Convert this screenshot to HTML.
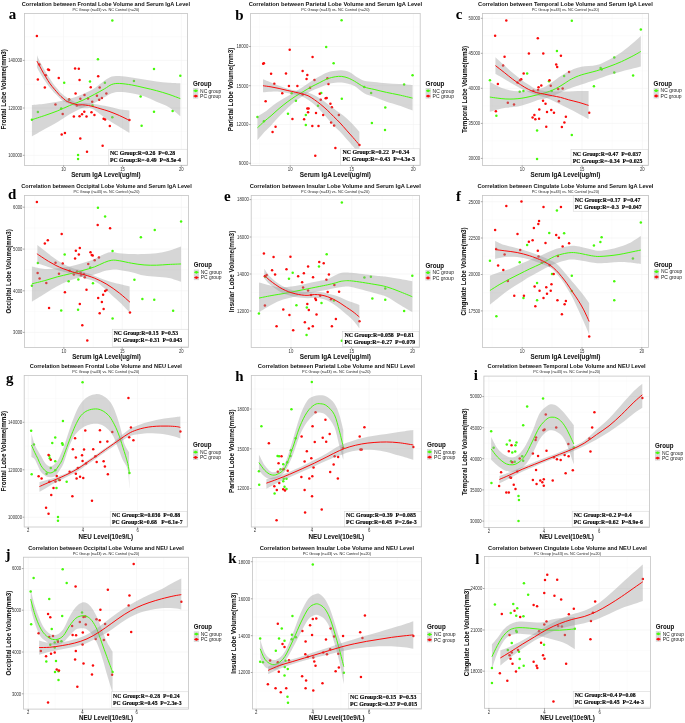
<!DOCTYPE html>
<html><head><meta charset="utf-8"><style>
html,body{margin:0;padding:0;background:#fff;}
svg{display:block;will-change:transform;}
text{font-family:"Liberation Sans",sans-serif;}
.gm{stroke:#f7f7f7;stroke-width:0.4;}
.gM{stroke:#f2f2f2;stroke-width:0.6;}
.rib{fill:#999;fill-opacity:0.4;}
.pg{fill:#46fa0a;}
.pr{fill:#fa0a0a;}
.lg{stroke:#46fa0a;stroke-width:1.0;fill:none;}
.lr{stroke:#fa0a0a;stroke-width:1.0;fill:none;}
.bd{fill:none;stroke:#c4c4c4;stroke-width:0.8;}
.sbox{fill:#fff;stroke:#d0d0d0;stroke-width:0.5;}
.st{font-family:"Liberation Serif",serif;font-weight:bold;font-size:6.2px;fill:#000;stroke:#000;stroke-width:0.15;white-space:pre;}
.tk{stroke:#555;stroke-width:0.5;}
.tl{font-size:4.452px;fill:#333;}
.ti{font-size:6.08px;font-weight:bold;fill:#111;}
.su{font-size:4.028px;fill:#222;}
.ax{font-size:6.625px;font-weight:bold;fill:#111;stroke:#111;stroke-width:0.05;}
.lt{font-family:"Liberation Serif",serif;font-weight:bold;font-size:15.6px;fill:#000;}
.lgt{font-size:6.498px;font-weight:bold;fill:#111;stroke:#111;stroke-width:0.05;}
.lgl{font-size:5.247px;fill:#222;}
</style></head>
<body><svg width="685" height="723" viewBox="0 0 685 723">
<rect width="685" height="723" fill="#fff"/>
<g><line x1="34.1" y1="13.4" x2="34.1" y2="165.4" class="gm"/><line x1="93.1" y1="13.4" x2="93.1" y2="165.4" class="gm"/><line x1="152" y1="13.4" x2="152" y2="165.4" class="gm"/><line x1="24.4" y1="36.7" x2="187.45" y2="36.7" class="gm"/><line x1="24.4" y1="84.2" x2="187.45" y2="84.2" class="gm"/><line x1="24.4" y1="131.6" x2="187.45" y2="131.6" class="gm"/><line x1="63.6" y1="13.4" x2="63.6" y2="165.4" class="gM"/><line x1="122.6" y1="13.4" x2="122.6" y2="165.4" class="gM"/><line x1="181.3" y1="13.4" x2="181.3" y2="165.4" class="gM"/><line x1="24.4" y1="60.4" x2="187.45" y2="60.4" class="gM"/><line x1="24.4" y1="108" x2="187.45" y2="108" class="gM"/><line x1="24.4" y1="155.3" x2="187.45" y2="155.3" class="gM"/><circle cx="112.32" cy="20.42" r="1.25" class="pg"/><circle cx="97.93" cy="59.14" r="1.25" class="pg"/><circle cx="154.01" cy="69.07" r="1.25" class="pg"/><circle cx="180.32" cy="75.77" r="1.25" class="pg"/><circle cx="64.18" cy="82.72" r="1.25" class="pg"/><circle cx="89.99" cy="81.47" r="1.25" class="pg"/><circle cx="104.88" cy="82.72" r="1.25" class="pg"/><circle cx="133.91" cy="80.98" r="1.25" class="pg"/><circle cx="140.61" cy="96.61" r="1.25" class="pg"/><circle cx="37.87" cy="112" r="1.25" class="pg"/><circle cx="31.91" cy="119.69" r="1.25" class="pg"/><circle cx="61.2" cy="108.53" r="1.25" class="pg"/><circle cx="69.14" cy="99.84" r="1.25" class="pg"/><circle cx="92.47" cy="105.55" r="1.25" class="pg"/><circle cx="112.32" cy="117.21" r="1.25" class="pg"/><circle cx="141.61" cy="125.65" r="1.25" class="pg"/><circle cx="154.01" cy="111.75" r="1.25" class="pg"/><circle cx="172.63" cy="111.01" r="1.25" class="pg"/><circle cx="78.07" cy="154.93" r="1.25" class="pg"/><circle cx="78.07" cy="158.91" r="1.25" class="pg"/><circle cx="36.88" cy="36.06" r="1.25" class="pr"/><circle cx="37.87" cy="79.49" r="1.25" class="pr"/><circle cx="39.36" cy="64.6" r="1.25" class="pr"/><circle cx="44.82" cy="87.43" r="1.25" class="pr"/><circle cx="45.81" cy="75.27" r="1.25" class="pr"/><circle cx="48.04" cy="69.56" r="1.25" class="pr"/><circle cx="49.04" cy="70.06" r="1.25" class="pr"/><circle cx="55.49" cy="104.55" r="1.25" class="pr"/><circle cx="58.72" cy="78" r="1.25" class="pr"/><circle cx="61.69" cy="134.58" r="1.25" class="pr"/><circle cx="64.92" cy="133.09" r="1.25" class="pr"/><circle cx="62.69" cy="113.99" r="1.25" class="pr"/><circle cx="69.14" cy="99.59" r="1.25" class="pr"/><circle cx="73.85" cy="116.47" r="1.25" class="pr"/><circle cx="75.09" cy="68.57" r="1.25" class="pr"/><circle cx="75.59" cy="93.39" r="1.25" class="pr"/><circle cx="78.82" cy="68.82" r="1.25" class="pr"/><circle cx="79.56" cy="79.99" r="1.25" class="pr"/><circle cx="79.56" cy="116.22" r="1.25" class="pr"/><circle cx="80.31" cy="138.55" r="1.25" class="pr"/><circle cx="80.31" cy="98.85" r="1.25" class="pr"/><circle cx="82.04" cy="114.23" r="1.25" class="pr"/><circle cx="84.28" cy="111.75" r="1.25" class="pr"/><circle cx="84.53" cy="94.88" r="1.25" class="pr"/><circle cx="86.51" cy="116.47" r="1.25" class="pr"/><circle cx="87.01" cy="151.71" r="1.25" class="pr"/><circle cx="88" cy="98.6" r="1.25" class="pr"/><circle cx="90.73" cy="87.18" r="1.25" class="pr"/><circle cx="91.47" cy="112.25" r="1.25" class="pr"/><circle cx="92.22" cy="101.82" r="1.25" class="pr"/><circle cx="94.45" cy="114.98" r="1.25" class="pr"/><circle cx="96.93" cy="95.87" r="1.25" class="pr"/><circle cx="98.18" cy="76.26" r="1.25" class="pr"/><circle cx="99.17" cy="99.84" r="1.25" class="pr"/><circle cx="99.66" cy="87.43" r="1.25" class="pr"/><circle cx="101.9" cy="98.1" r="1.25" class="pr"/><circle cx="102.64" cy="145.75" r="1.25" class="pr"/><circle cx="103.64" cy="118.7" r="1.25" class="pr"/><circle cx="105.12" cy="119.45" r="1.25" class="pr"/><circle cx="106.36" cy="93.39" r="1.25" class="pr"/><circle cx="109.84" cy="125.9" r="1.25" class="pr"/><circle cx="129.45" cy="119.94" r="1.25" class="pr"/><circle cx="76.83" cy="105.55" r="1.25" class="pr"/><path d="M31.91,105.05 C34.06,104.84 40.6,104.35 44.82,103.81 C49.04,103.27 53.09,102.65 57.23,101.82 C61.37,100.99 65.5,100.09 69.64,98.85 C73.78,97.61 77.91,96.16 82.04,94.38 C86.18,92.6 90.73,90.46 94.45,88.18 C98.17,85.91 101.48,82.68 104.38,80.73 C107.27,78.78 109.34,77.3 111.82,76.51 C114.3,75.72 115.96,75.84 119.27,76.01 C122.58,76.18 127.54,76.92 131.68,77.5 C135.82,78.08 139.95,78.83 144.09,79.49 C148.23,80.15 152.36,80.93 156.5,81.47 C160.64,82.01 164.94,82.43 168.91,82.72 C172.88,83.01 178.42,83.13 180.32,83.21 L180.32,116.22 C178.42,114.73 172.88,109.68 168.91,107.28 C164.94,104.88 160.64,103.64 156.5,101.82 C152.36,100 148.23,97.81 144.09,96.36 C139.95,94.91 135.82,93.88 131.68,93.14 C127.54,92.4 122.58,91.9 119.27,91.9 C115.96,91.9 114.3,92.23 111.82,93.14 C109.34,94.05 107.27,95.7 104.38,97.36 C101.48,99.02 98.17,101.29 94.45,103.07 C90.73,104.85 86.18,106.17 82.04,108.03 C77.91,109.89 73.78,111.87 69.64,114.23 C65.5,116.59 61.37,119.7 57.23,122.18 C53.09,124.66 49.04,126.72 44.82,129.12 C40.6,131.52 34.06,135.33 31.91,136.57 Z" class="rib"/><path d="M31.91,119.69 C34.06,118.99 40.6,116.92 44.82,115.47 C49.04,114.02 53.09,112.66 57.23,111.01 C61.37,109.36 65.5,107.29 69.64,105.55 C73.78,103.81 77.91,102.44 82.04,100.58 C86.18,98.72 90.73,96.32 94.45,94.38 C98.17,92.44 101.48,90.58 104.38,88.92 C107.27,87.27 109.34,85.36 111.82,84.45 C114.3,83.54 115.96,83.38 119.27,83.46 C122.58,83.54 127.54,84.25 131.68,84.95 C135.82,85.65 139.95,86.73 144.09,87.68 C148.23,88.63 152.36,89.54 156.5,90.66 C160.64,91.78 164.94,93.06 168.91,94.38 C172.88,95.7 178.42,97.9 180.32,98.6" class="lg"/><path d="M37.07,55.28 C37.29,55.83 37.92,57.48 38.38,58.57 C38.84,59.66 39.23,60.7 39.84,61.85 C40.45,63.01 41.3,64.22 42.03,65.5 C42.76,66.78 43.49,68.24 44.22,69.52 C44.95,70.8 45.68,71.95 46.41,73.17 C47.14,74.39 47.87,75.66 48.6,76.82 C49.33,77.97 50.06,79 50.79,80.1 C51.52,81.19 52.25,82.36 52.98,83.39 C53.71,84.42 54.44,85.4 55.17,86.31 C55.9,87.22 56.63,88.01 57.36,88.86 C58.09,89.71 58.82,90.63 59.55,91.42 C60.28,92.21 61.01,92.94 61.74,93.61 C62.47,94.28 63.2,94.88 63.93,95.43 C64.66,95.98 65.39,96.4 66.12,96.89 C66.85,97.38 66.54,97.39 68.31,98.35 C70.08,99.31 74.3,101.94 76.74,102.66 C79.18,103.38 80.87,102.56 82.94,102.66 C85.01,102.76 85.16,102.67 89.15,103.28 C93.14,103.89 101.84,105.29 106.86,106.29 C111.88,107.29 115.5,108.57 119.27,109.27 C123.03,109.97 127.75,110.3 129.45,110.51 L129.45,132.85 C127.75,131.81 123.03,128.91 119.27,126.64 C115.5,124.37 111.36,122.16 106.86,119.2 C102.36,116.24 95.72,110.7 92.25,108.87 C88.78,107.05 88.11,108.46 86.04,108.25 C83.97,108.04 83.4,108.67 79.84,107.63 C76.28,106.59 67.55,103.18 64.66,102 C61.76,100.82 63.2,101.09 62.47,100.54 C61.74,99.99 61.01,99.39 60.28,98.72 C59.55,98.05 58.82,97.26 58.09,96.53 C57.36,95.8 56.63,95.07 55.9,94.34 C55.17,93.61 54.44,92.94 53.71,92.15 C52.98,91.36 52.25,90.44 51.52,89.59 C50.79,88.74 50.06,87.95 49.33,87.04 C48.6,86.13 47.87,85.16 47.14,84.12 C46.41,83.09 45.68,81.92 44.95,80.83 C44.22,79.73 43.49,78.7 42.76,77.55 C42.03,76.39 41.3,75.12 40.57,73.9 C39.84,72.68 38.99,71.34 38.38,70.25 C37.77,69.16 37.16,67.82 36.92,67.33 Z" class="rib"/><path d="M36.92,61.12 C37.29,61.79 38.38,63.8 39.11,65.14 C39.84,66.48 40.57,67.81 41.3,69.15 C42.03,70.49 42.76,71.89 43.49,73.17 C44.22,74.45 44.95,75.6 45.68,76.82 C46.41,78.04 47.14,79.31 47.87,80.47 C48.6,81.62 49.33,82.72 50.06,83.75 C50.79,84.78 51.52,85.76 52.25,86.67 C52.98,87.58 53.71,88.38 54.44,89.23 C55.17,90.08 55.9,90.93 56.63,91.78 C57.36,92.63 58.09,93.55 58.82,94.34 C59.55,95.13 60.28,95.86 61.01,96.53 C61.74,97.2 62.47,97.74 63.2,98.35 C63.93,98.96 64.66,99.63 65.39,100.18 C66.12,100.73 65.58,100.88 67.58,101.64 C69.58,102.41 74.9,104.25 77.36,104.77 C79.82,105.29 80.46,104.64 82.32,104.77 C84.18,104.89 86.46,105.15 88.53,105.52 C90.6,105.89 92.66,106.45 94.73,107.01 C96.8,107.57 98.55,108.15 100.93,108.87 C103.31,109.59 105.94,110.25 109,111.35 C112.06,112.45 115.86,113.95 119.27,115.47 C122.68,116.98 127.75,119.61 129.45,120.44" class="lr"/><rect x="108.8" y="149.2" width="78.35" height="15.9" class="sbox"/><text x="109.9" y="155.4" class="st" textLength="65.29" lengthAdjust="spacingAndGlyphs">NC Group:R=0.26  P=0.28</text><text x="109.9" y="162.2" class="st" textLength="71.05" lengthAdjust="spacingAndGlyphs">PC Group:R=-0.49  P=8.5e-4</text><rect x="24.4" y="13.4" width="163.05" height="152" class="bd"/><line x1="63.6" y1="165.4" x2="63.6" y2="167" class="tk"/><text x="63.6" y="170.6" class="tl" text-anchor="middle" textLength="4.67" lengthAdjust="spacingAndGlyphs">10</text><line x1="122.6" y1="165.4" x2="122.6" y2="167" class="tk"/><text x="122.6" y="170.6" class="tl" text-anchor="middle" textLength="4.67" lengthAdjust="spacingAndGlyphs">15</text><line x1="181.3" y1="165.4" x2="181.3" y2="167" class="tk"/><text x="181.3" y="170.6" class="tl" text-anchor="middle" textLength="4.67" lengthAdjust="spacingAndGlyphs">20</text><line x1="22.8" y1="60.4" x2="24.4" y2="60.4" class="tk"/><text x="22.2" y="62.25" class="tl" text-anchor="end" textLength="14.02" lengthAdjust="spacingAndGlyphs">140000</text><line x1="22.8" y1="108" x2="24.4" y2="108" class="tk"/><text x="22.2" y="109.85" class="tl" text-anchor="end" textLength="14.02" lengthAdjust="spacingAndGlyphs">120000</text><line x1="22.8" y1="155.3" x2="24.4" y2="155.3" class="tk"/><text x="22.2" y="157.15" class="tl" text-anchor="end" textLength="14.02" lengthAdjust="spacingAndGlyphs">100000</text><text x="105.92" y="5.8" class="ti" text-anchor="middle" textLength="168.30" lengthAdjust="spacingAndGlyphs">Correlation between Frontal Lobe Volume and Serum IgA Level</text><text x="105.92" y="10.9" class="su" text-anchor="middle" textLength="66.95" lengthAdjust="spacingAndGlyphs">PC Group (n=43) vs. NC Control (n=20)</text><text x="105.92" y="176.6" class="ax" text-anchor="middle" textLength="69.57" lengthAdjust="spacingAndGlyphs">Serum IgA Level(ug/ml)</text><text transform="translate(5.6,89.4) rotate(-90)" class="ax" text-anchor="middle" textLength="80.44" lengthAdjust="spacingAndGlyphs">Frontal Lobe Volume(mm3)</text><text x="8.8" y="18.5" class="lt" textLength="7.50" lengthAdjust="spacingAndGlyphs">a</text><text x="193.1" y="85.6" class="lgt" textLength="18.39" lengthAdjust="spacingAndGlyphs">Group</text><rect x="193.1" y="88" width="5.2" height="10.6" fill="#d9d9d9"/><line x1="193.5" y1="90.8" x2="197.9" y2="90.8" class="lg"/><line x1="193.5" y1="96.1" x2="197.9" y2="96.1" class="lr"/><circle cx="195.7" cy="90.8" r="1.4" class="pg"/><circle cx="195.7" cy="96.1" r="1.4" class="pr"/><text x="200.1" y="92.5" class="lgl" textLength="21.19" lengthAdjust="spacingAndGlyphs">NC group</text><text x="200.1" y="97.8" class="lgl" textLength="20.91" lengthAdjust="spacingAndGlyphs">PC group</text></g>
<g><line x1="259.5" y1="13.4" x2="259.5" y2="165.4" class="gm"/><line x1="321" y1="13.4" x2="321" y2="165.4" class="gm"/><line x1="382.5" y1="13.4" x2="382.5" y2="165.4" class="gm"/><line x1="250.6" y1="27" x2="420.2" y2="27" class="gm"/><line x1="250.6" y1="66.1" x2="420.2" y2="66.1" class="gm"/><line x1="250.6" y1="105.1" x2="420.2" y2="105.1" class="gm"/><line x1="250.6" y1="144" x2="420.2" y2="144" class="gm"/><line x1="290.2" y1="13.4" x2="290.2" y2="165.4" class="gM"/><line x1="351.7" y1="13.4" x2="351.7" y2="165.4" class="gM"/><line x1="413.3" y1="13.4" x2="413.3" y2="165.4" class="gM"/><line x1="250.6" y1="46.5" x2="420.2" y2="46.5" class="gM"/><line x1="250.6" y1="85.7" x2="420.2" y2="85.7" class="gM"/><line x1="250.6" y1="124.6" x2="420.2" y2="124.6" class="gM"/><line x1="250.6" y1="163.3" x2="420.2" y2="163.3" class="gM"/><circle cx="341.58" cy="20.18" r="1.25" class="pg"/><circle cx="326.19" cy="46.98" r="1.25" class="pg"/><circle cx="333.64" cy="63.36" r="1.25" class="pg"/><circle cx="412.55" cy="75.27" r="1.25" class="pg"/><circle cx="404.12" cy="84.45" r="1.25" class="pg"/><circle cx="364.16" cy="86.93" r="1.25" class="pg"/><circle cx="371.11" cy="92.89" r="1.25" class="pg"/><circle cx="321.23" cy="92.89" r="1.25" class="pg"/><circle cx="291.69" cy="93.14" r="1.25" class="pg"/><circle cx="295.91" cy="100.83" r="1.25" class="pg"/><circle cx="341.82" cy="98.85" r="1.25" class="pg"/><circle cx="318" cy="105.8" r="1.25" class="pg"/><circle cx="385.26" cy="107.53" r="1.25" class="pg"/><circle cx="287.97" cy="113.74" r="1.25" class="pg"/><circle cx="257.45" cy="116.96" r="1.25" class="pg"/><circle cx="305.84" cy="114.98" r="1.25" class="pg"/><circle cx="263.9" cy="121.18" r="1.25" class="pg"/><circle cx="305.84" cy="124.91" r="1.25" class="pg"/><circle cx="371.85" cy="122.92" r="1.25" class="pg"/><circle cx="385.01" cy="130.12" r="1.25" class="pg"/><circle cx="289.71" cy="49.71" r="1.25" class="pr"/><circle cx="312.54" cy="56.91" r="1.25" class="pr"/><circle cx="263.15" cy="63.85" r="1.25" class="pr"/><circle cx="263.9" cy="63.36" r="1.25" class="pr"/><circle cx="271.09" cy="73.78" r="1.25" class="pr"/><circle cx="285.99" cy="73.53" r="1.25" class="pr"/><circle cx="302.61" cy="71.05" r="1.25" class="pr"/><circle cx="307.33" cy="75.02" r="1.25" class="pr"/><circle cx="306.58" cy="78.99" r="1.25" class="pr"/><circle cx="314.53" cy="79.99" r="1.25" class="pr"/><circle cx="274.32" cy="83.71" r="1.25" class="pr"/><circle cx="288.96" cy="85.94" r="1.25" class="pr"/><circle cx="297.4" cy="85.94" r="1.25" class="pr"/><circle cx="310.06" cy="87.68" r="1.25" class="pr"/><circle cx="327.43" cy="78.25" r="1.25" class="pr"/><circle cx="328.42" cy="83.96" r="1.25" class="pr"/><circle cx="282.26" cy="93.14" r="1.25" class="pr"/><circle cx="302.61" cy="94.38" r="1.25" class="pr"/><circle cx="319.74" cy="93.64" r="1.25" class="pr"/><circle cx="265.64" cy="101.33" r="1.25" class="pr"/><circle cx="320.73" cy="99.84" r="1.25" class="pr"/><circle cx="325.69" cy="98.35" r="1.25" class="pr"/><circle cx="326.69" cy="98.1" r="1.25" class="pr"/><circle cx="330.41" cy="103.81" r="1.25" class="pr"/><circle cx="331.9" cy="107.28" r="1.25" class="pr"/><circle cx="307.33" cy="108.53" r="1.25" class="pr"/><circle cx="308.57" cy="108.53" r="1.25" class="pr"/><circle cx="308.07" cy="112.25" r="1.25" class="pr"/><circle cx="316.01" cy="112.99" r="1.25" class="pr"/><circle cx="323.21" cy="114.98" r="1.25" class="pr"/><circle cx="338.85" cy="114.98" r="1.25" class="pr"/><circle cx="292.44" cy="118.95" r="1.25" class="pr"/><circle cx="304.1" cy="119.2" r="1.25" class="pr"/><circle cx="331.15" cy="122.42" r="1.25" class="pr"/><circle cx="334.13" cy="125.4" r="1.25" class="pr"/><circle cx="275.56" cy="126.64" r="1.25" class="pr"/><circle cx="272.58" cy="132.1" r="1.25" class="pr"/><circle cx="312.29" cy="125.9" r="1.25" class="pr"/><circle cx="318.5" cy="125.9" r="1.25" class="pr"/><circle cx="335.37" cy="147.99" r="1.25" class="pr"/><circle cx="315.27" cy="155.68" r="1.25" class="pr"/><circle cx="359.45" cy="145.01" r="1.25" class="pr"/><path d="M257.41,116.57 C258.62,115.82 262.37,113.68 264.64,112.07 C266.91,110.46 268.65,108.72 271.06,106.93 C273.47,105.14 276.41,103.05 279.09,101.31 C281.77,99.57 284.44,98.11 287.12,96.5 C289.8,94.89 292.47,93.29 295.15,91.68 C297.83,90.07 300.5,88.6 303.18,86.86 C305.86,85.12 308.52,82.98 311.2,81.24 C313.88,79.5 316.55,77.89 319.23,76.42 C321.91,74.95 324.58,73.35 327.26,72.41 C329.94,71.47 332.88,71.15 335.29,70.8 C337.7,70.45 339.39,70.11 341.72,70.32 C344.05,70.53 346.77,70.93 349.27,72.04 C351.77,73.16 354.24,75.56 356.72,77.01 C359.2,78.46 361.27,79.9 364.16,80.73 C367.06,81.56 370.37,81.56 374.09,81.97 C377.81,82.38 382.36,82.88 386.5,83.21 C390.64,83.54 394.57,83.67 398.91,83.96 C403.25,84.25 410.28,84.78 412.55,84.95 L412.55,110.51 C410.28,109.68 403.25,107 398.91,105.55 C394.57,104.1 390.64,103.27 386.5,101.82 C382.36,100.37 377.81,98.31 374.09,96.86 C370.37,95.41 367.42,94.94 364.16,93.14 C360.91,91.34 357.23,87.64 354.56,86.06 C351.89,84.48 350.28,84.24 348.14,83.65 C346,83.06 343.86,82.66 341.72,82.53 C339.58,82.4 337.7,82.53 335.29,82.85 C332.88,83.17 329.94,83.65 327.26,84.45 C324.58,85.25 321.91,86.59 319.23,87.66 C316.55,88.73 313.88,89.54 311.2,90.88 C308.52,92.22 305.86,93.95 303.18,95.69 C300.5,97.43 297.83,99.17 295.15,101.31 C292.47,103.45 289.8,106 287.12,108.54 C284.44,111.08 281.77,113.76 279.09,116.57 C276.41,119.38 273.47,122.86 271.06,125.4 C268.65,127.94 266.91,129.33 264.64,131.82 C262.37,134.31 258.62,138.92 257.41,140.34 Z" class="rib"/><path d="M257.41,127.81 C258.62,126.69 262.37,123.08 264.64,121.07 C266.91,119.06 268.65,117.86 271.06,115.77 C273.47,113.68 276.41,110.81 279.09,108.54 C281.77,106.27 284.44,104.13 287.12,102.12 C289.8,100.11 292.47,98.24 295.15,96.5 C297.83,94.76 300.5,93.29 303.18,91.68 C305.86,90.07 308.52,88.33 311.2,86.86 C313.88,85.39 316.55,84.19 319.23,82.85 C321.91,81.51 324.58,79.85 327.26,78.83 C329.94,77.81 332.88,77.14 335.29,76.74 C337.7,76.34 339.58,76.2 341.72,76.42 C343.86,76.64 346,77.23 348.14,78.03 C350.28,78.83 351.89,79.76 354.56,81.24 C357.23,82.72 360.91,85.57 364.16,86.93 C367.42,88.29 370.37,88.51 374.09,89.42 C377.81,90.33 382.36,91.48 386.5,92.39 C390.64,93.3 394.57,93.93 398.91,94.88 C403.25,95.83 410.28,97.56 412.55,98.1" class="lg"/><path d="M263.03,79.31 C264.37,79.85 268.38,81.46 271.06,82.53 C273.74,83.6 276.41,84.75 279.09,85.74 C281.77,86.73 284.44,87.67 287.12,88.47 C289.8,89.27 292.74,90.02 295.15,90.55 C297.56,91.08 299.43,91.36 301.57,91.68 C303.71,92 305.85,91.87 307.99,92.48 C310.13,93.09 312.28,94.3 314.42,95.37 C316.56,96.44 318.7,97.52 320.84,98.91 C322.98,100.3 325.12,102.11 327.26,103.72 C329.4,105.33 331.55,106.93 333.69,108.54 C335.83,110.15 337.97,111.75 340.11,113.36 C342.25,114.97 344.39,116.31 346.53,118.18 C348.67,120.05 350.82,122.33 352.96,124.6 C355.1,126.87 358.31,130.62 359.38,131.82 L359.38,154.31 C358.31,152.97 355.1,148.82 352.96,146.28 C350.82,143.74 348.67,141.46 346.53,139.05 C344.39,136.64 342.25,134.09 340.11,131.82 C337.97,129.54 335.83,127.67 333.69,125.4 C331.55,123.13 329.4,120.59 327.26,118.18 C325.12,115.77 322.98,113.23 320.84,110.95 C318.7,108.67 316.56,106.4 314.42,104.53 C312.28,102.66 310.13,101.1 307.99,99.71 C305.85,98.32 303.71,97.06 301.57,96.18 C299.43,95.3 297.56,94.95 295.15,94.41 C292.74,93.87 289.8,93.41 287.12,92.96 C284.44,92.5 281.77,91.89 279.09,91.68 C276.41,91.47 273.74,91.6 271.06,91.68 C268.38,91.76 264.37,92.08 263.03,92.16 Z" class="rib"/><path d="M263.03,85.74 C264.37,85.93 268.38,86.41 271.06,86.86 C273.74,87.31 276.41,87.88 279.09,88.47 C281.77,89.06 284.44,89.78 287.12,90.39 C289.8,91 292.74,91.6 295.15,92.16 C297.56,92.72 299.43,93.18 301.57,93.77 C303.71,94.36 305.85,94.7 307.99,95.69 C310.13,96.68 312.28,98.24 314.42,99.71 C316.56,101.18 318.7,102.79 320.84,104.53 C322.98,106.27 325.12,108.14 327.26,110.15 C329.4,112.16 331.55,114.43 333.69,116.57 C335.83,118.71 337.97,120.71 340.11,122.99 C342.25,125.27 344.39,127.81 346.53,130.22 C348.67,132.63 350.82,134.99 352.96,137.45 C355.1,139.91 358.31,143.73 359.38,144.99" class="lr"/><rect x="340.6" y="148.8" width="79.3" height="16.3" class="sbox"/><text x="342.4" y="154.4" class="st" textLength="66.79" lengthAdjust="spacingAndGlyphs">NC Group:R=0.22  P=0.34</text><text x="342.4" y="161" class="st" textLength="72.69" lengthAdjust="spacingAndGlyphs">PC Group:R=-0.43  P=4.3e-3</text><rect x="250.6" y="13.4" width="169.6" height="152" class="bd"/><line x1="290.2" y1="165.4" x2="290.2" y2="167" class="tk"/><text x="290.2" y="170.6" class="tl" text-anchor="middle" textLength="4.78" lengthAdjust="spacingAndGlyphs">10</text><line x1="351.7" y1="165.4" x2="351.7" y2="167" class="tk"/><text x="351.7" y="170.6" class="tl" text-anchor="middle" textLength="4.78" lengthAdjust="spacingAndGlyphs">15</text><line x1="413.3" y1="165.4" x2="413.3" y2="167" class="tk"/><text x="413.3" y="170.6" class="tl" text-anchor="middle" textLength="4.78" lengthAdjust="spacingAndGlyphs">20</text><line x1="249" y1="46.5" x2="250.6" y2="46.5" class="tk"/><text x="248.4" y="48.35" class="tl" text-anchor="end" textLength="11.95" lengthAdjust="spacingAndGlyphs">18000</text><line x1="249" y1="85.7" x2="250.6" y2="85.7" class="tk"/><text x="248.4" y="87.55" class="tl" text-anchor="end" textLength="11.95" lengthAdjust="spacingAndGlyphs">15000</text><line x1="249" y1="124.6" x2="250.6" y2="124.6" class="tk"/><text x="248.4" y="126.45" class="tl" text-anchor="end" textLength="11.95" lengthAdjust="spacingAndGlyphs">12000</text><line x1="249" y1="163.3" x2="250.6" y2="163.3" class="tk"/><text x="248.4" y="165.15" class="tl" text-anchor="end" textLength="9.56" lengthAdjust="spacingAndGlyphs">9000</text><text x="335.4" y="5.8" class="ti" text-anchor="middle" textLength="173.47" lengthAdjust="spacingAndGlyphs">Correlation between Parietal Lobe Volume and Serum IgA Level</text><text x="335.4" y="10.9" class="su" text-anchor="middle" textLength="68.49" lengthAdjust="spacingAndGlyphs">PC Group (n=43) vs. NC Control (n=20)</text><text x="335.4" y="176.6" class="ax" text-anchor="middle" textLength="71.17" lengthAdjust="spacingAndGlyphs">Serum IgA Level(ug/ml)</text><text transform="translate(232.9,89.4) rotate(-90)" class="ax" text-anchor="middle" textLength="83.73" lengthAdjust="spacingAndGlyphs">Parietal Lobe Volume(mm3)</text><text x="235.3" y="19.9" class="lt" textLength="8.34" lengthAdjust="spacingAndGlyphs">b</text><text x="425.6" y="85.6" class="lgt" textLength="18.81" lengthAdjust="spacingAndGlyphs">Group</text><rect x="425.6" y="88" width="5.2" height="10.6" fill="#d9d9d9"/><line x1="426" y1="90.8" x2="430.4" y2="90.8" class="lg"/><line x1="426" y1="96.1" x2="430.4" y2="96.1" class="lr"/><circle cx="428.2" cy="90.8" r="1.4" class="pg"/><circle cx="428.2" cy="96.1" r="1.4" class="pr"/><text x="432.6" y="92.5" class="lgl" textLength="21.67" lengthAdjust="spacingAndGlyphs">NC group</text><text x="432.6" y="97.8" class="lgl" textLength="21.39" lengthAdjust="spacingAndGlyphs">PC group</text></g>
<g><line x1="492.18" y1="13.4" x2="492.18" y2="165.4" class="gm"/><line x1="552.23" y1="13.4" x2="552.23" y2="165.4" class="gm"/><line x1="612.27" y1="13.4" x2="612.27" y2="165.4" class="gm"/><line x1="482.4" y1="35.81" x2="648.4" y2="35.81" class="gm"/><line x1="482.4" y1="70.84" x2="648.4" y2="70.84" class="gm"/><line x1="482.4" y1="105.86" x2="648.4" y2="105.86" class="gm"/><line x1="482.4" y1="140.89" x2="648.4" y2="140.89" class="gm"/><line x1="522.2" y1="13.4" x2="522.2" y2="165.4" class="gM"/><line x1="582" y1="13.4" x2="582" y2="165.4" class="gM"/><line x1="642.3" y1="13.4" x2="642.3" y2="165.4" class="gM"/><line x1="482.4" y1="18.3" x2="648.4" y2="18.3" class="gM"/><line x1="482.4" y1="53.3" x2="648.4" y2="53.3" class="gM"/><line x1="482.4" y1="88.3" x2="648.4" y2="88.3" class="gM"/><line x1="482.4" y1="123.4" x2="648.4" y2="123.4" class="gM"/><line x1="482.4" y1="158.4" x2="648.4" y2="158.4" class="gM"/><circle cx="571.82" cy="20.67" r="1.25" class="pg"/><circle cx="640.82" cy="29.61" r="1.25" class="pg"/><circle cx="556.93" cy="50.95" r="1.25" class="pg"/><circle cx="614.26" cy="57.4" r="1.25" class="pg"/><circle cx="527.15" cy="73.53" r="1.25" class="pg"/><circle cx="564.13" cy="76.01" r="1.25" class="pg"/><circle cx="600.61" cy="68.07" r="1.25" class="pg"/><circle cx="601.61" cy="69.56" r="1.25" class="pg"/><circle cx="614.26" cy="72.54" r="1.25" class="pg"/><circle cx="633.12" cy="75.52" r="1.25" class="pg"/><circle cx="489.93" cy="80.23" r="1.25" class="pg"/><circle cx="548.99" cy="81.23" r="1.25" class="pg"/><circle cx="593.91" cy="86.19" r="1.25" class="pg"/><circle cx="519.71" cy="91.65" r="1.25" class="pg"/><circle cx="523.43" cy="90.91" r="1.25" class="pg"/><circle cx="551.72" cy="90.91" r="1.25" class="pg"/><circle cx="496.38" cy="115.72" r="1.25" class="pg"/><circle cx="537.08" cy="130.61" r="1.25" class="pg"/><circle cx="571.82" cy="135.08" r="1.25" class="pg"/><circle cx="537.08" cy="158.91" r="1.25" class="pg"/><circle cx="506.31" cy="20.42" r="1.25" class="pr"/><circle cx="495.14" cy="35.81" r="1.25" class="pr"/><circle cx="537.82" cy="38.29" r="1.25" class="pr"/><circle cx="528.89" cy="53.43" r="1.25" class="pr"/><circle cx="543.28" cy="53.43" r="1.25" class="pr"/><circle cx="504.57" cy="56.66" r="1.25" class="pr"/><circle cx="560.91" cy="55.66" r="1.25" class="pr"/><circle cx="503.08" cy="65.59" r="1.25" class="pr"/><circle cx="556.19" cy="64.6" r="1.25" class="pr"/><circle cx="557.18" cy="67.08" r="1.25" class="pr"/><circle cx="569.09" cy="72.04" r="1.25" class="pr"/><circle cx="523.68" cy="73.53" r="1.25" class="pr"/><circle cx="521.2" cy="79.24" r="1.25" class="pr"/><circle cx="519.96" cy="80.23" r="1.25" class="pr"/><circle cx="497.87" cy="83.96" r="1.25" class="pr"/><circle cx="517.47" cy="82.47" r="1.25" class="pr"/><circle cx="549.49" cy="80.23" r="1.25" class="pr"/><circle cx="550.73" cy="85.69" r="1.25" class="pr"/><circle cx="538.57" cy="87.18" r="1.25" class="pr"/><circle cx="541.3" cy="85.45" r="1.25" class="pr"/><circle cx="538.07" cy="89.91" r="1.25" class="pr"/><circle cx="558.18" cy="88.92" r="1.25" class="pr"/><circle cx="562.64" cy="88.42" r="1.25" class="pr"/><circle cx="533.36" cy="90.66" r="1.25" class="pr"/><circle cx="543.04" cy="100.83" r="1.25" class="pr"/><circle cx="558.92" cy="101.33" r="1.25" class="pr"/><circle cx="545.52" cy="103.81" r="1.25" class="pr"/><circle cx="507.8" cy="102.82" r="1.25" class="pr"/><circle cx="514" cy="104.55" r="1.25" class="pr"/><circle cx="495.88" cy="111.26" r="1.25" class="pr"/><circle cx="539.31" cy="109.52" r="1.25" class="pr"/><circle cx="551.23" cy="110.01" r="1.25" class="pr"/><circle cx="547.01" cy="112" r="1.25" class="pr"/><circle cx="553.96" cy="112.74" r="1.25" class="pr"/><circle cx="589.2" cy="112.74" r="1.25" class="pr"/><circle cx="534.35" cy="114.98" r="1.25" class="pr"/><circle cx="532.61" cy="117.46" r="1.25" class="pr"/><circle cx="535.34" cy="119.2" r="1.25" class="pr"/><circle cx="539.07" cy="118.7" r="1.25" class="pr"/><circle cx="565.87" cy="116.72" r="1.25" class="pr"/><circle cx="564.38" cy="122.42" r="1.25" class="pr"/><circle cx="546.26" cy="126.64" r="1.25" class="pr"/><circle cx="561.9" cy="126.89" r="1.25" class="pr"/><path d="M489.82,82.12 C491.16,82.79 495.17,84.93 497.85,86.13 C500.53,87.33 503.2,88.54 505.88,89.34 C508.56,90.14 511.23,90.6 513.91,90.95 C516.58,91.3 519.25,91.43 521.93,91.43 C524.61,91.43 527.28,91.3 529.96,90.95 C532.64,90.6 535.31,90.14 537.99,89.34 C540.67,88.54 543.61,87.33 546.02,86.13 C548.43,84.93 550.31,83.59 552.45,82.12 C554.59,80.65 556.73,78.77 558.87,77.3 C561.01,75.83 563.15,74.48 565.29,73.28 C567.43,72.08 569.04,71.14 571.72,70.07 C574.4,69 577.2,67.69 581.35,66.86 C585.5,66.03 592.02,66.29 596.64,65.09 C601.26,63.89 604.91,61.79 609.05,59.64 C613.19,57.49 617.32,55.09 621.46,52.19 C625.6,49.29 630.64,44.95 633.87,42.26 C637.1,39.57 639.66,37.09 640.82,36.06 L640.82,66.58 C639.66,66.87 637.1,67.49 633.87,68.32 C630.64,69.15 625.6,70.43 621.46,71.55 C617.32,72.67 613.19,73.7 609.05,75.02 C604.91,76.34 601.26,77.91 596.64,79.49 C592.02,81.07 585.5,83.16 581.35,84.53 C577.2,85.91 574.4,86.8 571.72,87.74 C569.04,88.68 567.43,89.21 565.29,90.15 C563.15,91.09 561.01,92.34 558.87,93.36 C556.73,94.38 554.59,95.45 552.45,96.25 C550.31,97.05 548.43,97.54 546.02,98.18 C543.61,98.82 540.67,99.3 537.99,100.1 C535.31,100.9 532.64,102.11 529.96,102.99 C527.28,103.87 524.61,104.73 521.93,105.4 C519.25,106.07 516.58,106.61 513.91,107.01 C511.23,107.41 508.56,107.41 505.88,107.81 C503.2,108.21 500.53,108.75 497.85,109.42 C495.17,110.09 491.16,111.42 489.82,111.82 Z" class="rib"/><path d="M489.82,97.05 C491.16,97.24 495.17,97.86 497.85,98.18 C500.53,98.5 503.2,98.85 505.88,98.98 C508.56,99.11 511.23,99.11 513.91,98.98 C516.58,98.85 519.25,98.58 521.93,98.18 C524.61,97.78 527.28,97.16 529.96,96.57 C532.64,95.98 535.31,95.31 537.99,94.64 C540.67,93.97 543.61,93.3 546.02,92.55 C548.43,91.8 550.31,91.09 552.45,90.15 C554.59,89.21 556.73,88.14 558.87,86.93 C561.01,85.73 563.15,84.26 565.29,82.92 C567.43,81.58 569.04,80.25 571.72,78.91 C574.4,77.57 577.2,76.24 581.35,74.89 C585.5,73.54 592.02,72.19 596.64,70.8 C601.26,69.41 604.91,68.11 609.05,66.58 C613.19,65.05 617.32,63.48 621.46,61.62 C625.6,59.76 630.64,57.12 633.87,55.42 C637.1,53.73 639.66,52.11 640.82,51.45" class="lg"/><path d="M495.44,57.23 C496.91,58.57 501.46,62.72 504.27,65.26 C507.08,67.8 509.62,70.21 512.3,72.48 C514.98,74.75 517.65,76.9 520.33,78.91 C523.01,80.92 525.68,82.79 528.36,84.53 C531.04,86.27 533.71,88.27 536.39,89.34 C539.07,90.41 541.74,90.6 544.42,90.95 C547.1,91.3 549.78,91.35 552.45,91.43 C555.12,91.51 557.8,91.43 560.47,91.43 C563.14,91.43 565.56,91.51 568.5,91.43 C571.44,91.35 574.79,91.03 578.14,90.95 C581.49,90.87 586.84,90.95 588.58,90.95 L588.58,119.05 C586.84,118.11 581.49,115.17 578.14,113.43 C574.79,111.69 571.44,110.08 568.5,108.61 C565.56,107.14 563.14,105.94 560.47,104.6 C557.8,103.26 555.12,101.78 552.45,100.58 C549.78,99.38 547.1,98.31 544.42,97.37 C541.74,96.43 539.07,95.84 536.39,94.96 C533.71,94.08 531.04,93.19 528.36,92.07 C525.68,90.95 523.01,89.61 520.33,88.22 C517.65,86.83 514.98,85.27 512.3,83.72 C509.62,82.17 507.08,80.52 504.27,78.91 C501.46,77.3 496.91,74.89 495.44,74.09 Z" class="rib"/><path d="M495.44,65.58 C496.91,66.73 501.46,70.26 504.27,72.48 C507.08,74.7 509.62,76.9 512.3,78.91 C514.98,80.92 517.65,82.79 520.33,84.53 C523.01,86.27 525.68,88 528.36,89.34 C531.04,90.68 533.71,91.75 536.39,92.55 C539.07,93.35 541.74,93.62 544.42,94.16 C547.1,94.7 549.78,95.23 552.45,95.77 C555.12,96.3 557.8,96.7 560.47,97.37 C563.14,98.04 565.56,98.98 568.5,99.78 C571.44,100.58 574.79,101.25 578.14,102.19 C581.49,103.13 586.84,104.87 588.58,105.4" class="lr"/><rect x="571" y="149.5" width="77.1" height="15.6" class="sbox"/><text x="572.7" y="155.7" class="st" textLength="68.38" lengthAdjust="spacingAndGlyphs">NC Group:R=0.47  P=0.037</text><text x="572.7" y="162.5" class="st" textLength="69.67" lengthAdjust="spacingAndGlyphs">PC Group:R=-0.34  P=0.025</text><rect x="482.4" y="13.4" width="166" height="152" class="bd"/><line x1="522.2" y1="165.4" x2="522.2" y2="167" class="tk"/><text x="522.2" y="170.6" class="tl" text-anchor="middle" textLength="4.69" lengthAdjust="spacingAndGlyphs">10</text><line x1="582" y1="165.4" x2="582" y2="167" class="tk"/><text x="582" y="170.6" class="tl" text-anchor="middle" textLength="4.69" lengthAdjust="spacingAndGlyphs">15</text><line x1="642.3" y1="165.4" x2="642.3" y2="167" class="tk"/><text x="642.3" y="170.6" class="tl" text-anchor="middle" textLength="4.69" lengthAdjust="spacingAndGlyphs">20</text><line x1="480.8" y1="18.3" x2="482.4" y2="18.3" class="tk"/><text x="480.2" y="20.15" class="tl" text-anchor="end" textLength="11.71" lengthAdjust="spacingAndGlyphs">50000</text><line x1="480.8" y1="53.3" x2="482.4" y2="53.3" class="tk"/><text x="480.2" y="55.15" class="tl" text-anchor="end" textLength="11.71" lengthAdjust="spacingAndGlyphs">45000</text><line x1="480.8" y1="88.3" x2="482.4" y2="88.3" class="tk"/><text x="480.2" y="90.15" class="tl" text-anchor="end" textLength="11.71" lengthAdjust="spacingAndGlyphs">40000</text><line x1="480.8" y1="123.4" x2="482.4" y2="123.4" class="tk"/><text x="480.2" y="125.25" class="tl" text-anchor="end" textLength="11.71" lengthAdjust="spacingAndGlyphs">35000</text><line x1="480.8" y1="158.4" x2="482.4" y2="158.4" class="tk"/><text x="480.2" y="160.25" class="tl" text-anchor="end" textLength="11.71" lengthAdjust="spacingAndGlyphs">30000</text><text x="565.4" y="5.8" class="ti" text-anchor="middle" textLength="174.67" lengthAdjust="spacingAndGlyphs">Correlation between Temporal Lobe Volume and Serum IgA Level</text><text x="565.4" y="10.9" class="su" text-anchor="middle" textLength="67.15" lengthAdjust="spacingAndGlyphs">PC Group (n=43) vs. NC Control (n=20)</text><text x="565.4" y="176.6" class="ax" text-anchor="middle" textLength="69.78" lengthAdjust="spacingAndGlyphs">Serum IgA Level(ug/ml)</text><text transform="translate(466.6,89.4) rotate(-90)" class="ax" text-anchor="middle" textLength="87.19" lengthAdjust="spacingAndGlyphs">Temporal Lobe Volume(mm3)</text><text x="455.7" y="18.8" class="lt" textLength="6.66" lengthAdjust="spacingAndGlyphs">c</text><text x="653.6" y="85.5" class="lgt" textLength="18.44" lengthAdjust="spacingAndGlyphs">Group</text><rect x="653.6" y="87.9" width="5.2" height="10.6" fill="#d9d9d9"/><line x1="654" y1="90.7" x2="658.4" y2="90.7" class="lg"/><line x1="654" y1="96" x2="658.4" y2="96" class="lr"/><circle cx="656.2" cy="90.7" r="1.4" class="pg"/><circle cx="656.2" cy="96" r="1.4" class="pr"/><text x="660.6" y="92.4" class="lgl" textLength="21.25" lengthAdjust="spacingAndGlyphs">NC group</text><text x="660.6" y="97.7" class="lgl" textLength="20.97" lengthAdjust="spacingAndGlyphs">PC group</text></g>
<g><line x1="34.55" y1="195.4" x2="34.55" y2="347.4" class="gm"/><line x1="93.25" y1="195.4" x2="93.25" y2="347.4" class="gm"/><line x1="151.95" y1="195.4" x2="151.95" y2="347.4" class="gm"/><line x1="24.5" y1="228.07" x2="188.5" y2="228.07" class="gm"/><line x1="24.5" y1="269.8" x2="188.5" y2="269.8" class="gm"/><line x1="24.5" y1="311.53" x2="188.5" y2="311.53" class="gm"/><line x1="63.9" y1="195.4" x2="63.9" y2="347.4" class="gM"/><line x1="122.2" y1="195.4" x2="122.2" y2="347.4" class="gM"/><line x1="181.3" y1="195.4" x2="181.3" y2="347.4" class="gM"/><line x1="24.5" y1="207.2" x2="188.5" y2="207.2" class="gM"/><line x1="24.5" y1="249.1" x2="188.5" y2="249.1" class="gM"/><line x1="24.5" y1="290.8" x2="188.5" y2="290.8" class="gM"/><line x1="24.5" y1="332.4" x2="188.5" y2="332.4" class="gM"/><circle cx="97.93" cy="207.87" r="1.25" class="pg"/><circle cx="105.12" cy="216.55" r="1.25" class="pg"/><circle cx="181.07" cy="221.52" r="1.25" class="pg"/><circle cx="154.76" cy="229.96" r="1.25" class="pg"/><circle cx="140.86" cy="237.15" r="1.25" class="pg"/><circle cx="112.57" cy="251.05" r="1.25" class="pg"/><circle cx="64.67" cy="254.53" r="1.25" class="pg"/><circle cx="37.87" cy="262.96" r="1.25" class="pg"/><circle cx="90.23" cy="267.43" r="1.25" class="pg"/><circle cx="134.41" cy="279.84" r="1.25" class="pg"/><circle cx="78.32" cy="279.59" r="1.25" class="pg"/><circle cx="68.64" cy="281.33" r="1.25" class="pg"/><circle cx="92.96" cy="283.31" r="1.25" class="pg"/><circle cx="31.91" cy="285.8" r="1.25" class="pg"/><circle cx="142.35" cy="298.95" r="1.25" class="pg"/><circle cx="154.26" cy="299.69" r="1.25" class="pg"/><circle cx="61.2" cy="310.61" r="1.25" class="pg"/><circle cx="78.07" cy="309.87" r="1.25" class="pg"/><circle cx="173.12" cy="310.86" r="1.25" class="pg"/><circle cx="112.57" cy="318.55" r="1.25" class="pg"/><circle cx="36.88" cy="201.91" r="1.25" class="pr"/><circle cx="97.68" cy="224.99" r="1.25" class="pr"/><circle cx="110.09" cy="228.22" r="1.25" class="pr"/><circle cx="61.69" cy="233.93" r="1.25" class="pr"/><circle cx="47.8" cy="240.13" r="1.25" class="pr"/><circle cx="44.82" cy="243.61" r="1.25" class="pr"/><circle cx="79.81" cy="248.07" r="1.25" class="pr"/><circle cx="75.84" cy="250.8" r="1.25" class="pr"/><circle cx="78.82" cy="254.53" r="1.25" class="pr"/><circle cx="90.48" cy="252.29" r="1.25" class="pr"/><circle cx="91.72" cy="255.02" r="1.25" class="pr"/><circle cx="92.72" cy="255.52" r="1.25" class="pr"/><circle cx="75.09" cy="258.5" r="1.25" class="pr"/><circle cx="98.92" cy="257.5" r="1.25" class="pr"/><circle cx="94.7" cy="260.23" r="1.25" class="pr"/><circle cx="55.49" cy="262.72" r="1.25" class="pr"/><circle cx="62.69" cy="263.46" r="1.25" class="pr"/><circle cx="88.25" cy="263.96" r="1.25" class="pr"/><circle cx="37.62" cy="272.89" r="1.25" class="pr"/><circle cx="58.96" cy="273.64" r="1.25" class="pr"/><circle cx="73.85" cy="274.38" r="1.25" class="pr"/><circle cx="80.55" cy="272.39" r="1.25" class="pr"/><circle cx="84.03" cy="273.88" r="1.25" class="pr"/><circle cx="81.05" cy="275.37" r="1.25" class="pr"/><circle cx="84.77" cy="277.36" r="1.25" class="pr"/><circle cx="39.61" cy="278.6" r="1.25" class="pr"/><circle cx="46.31" cy="283.07" r="1.25" class="pr"/><circle cx="86.51" cy="289.77" r="1.25" class="pr"/><circle cx="64.92" cy="292.25" r="1.25" class="pr"/><circle cx="106.61" cy="290.01" r="1.25" class="pr"/><circle cx="105.12" cy="291.01" r="1.25" class="pr"/><circle cx="103.14" cy="294.73" r="1.25" class="pr"/><circle cx="98.18" cy="297.96" r="1.25" class="pr"/><circle cx="101.9" cy="301.93" r="1.25" class="pr"/><circle cx="79.81" cy="303.91" r="1.25" class="pr"/><circle cx="49.04" cy="307.88" r="1.25" class="pr"/><circle cx="103.64" cy="309.12" r="1.25" class="pr"/><circle cx="99.66" cy="313.34" r="1.25" class="pr"/><circle cx="129.94" cy="312.6" r="1.25" class="pr"/><circle cx="82.29" cy="325.26" r="1.25" class="pr"/><circle cx="87.26" cy="340.39" r="1.25" class="pr"/><circle cx="69.64" cy="270.66" r="1.25" class="pr"/><circle cx="77.08" cy="271.4" r="1.25" class="pr"/><path d="M31.91,266.44 C34.06,266.85 40.6,268.63 44.82,268.92 C49.04,269.21 53.09,268.59 57.23,268.18 C61.37,267.77 65.5,267.27 69.64,266.44 C73.78,265.61 77.91,264.45 82.04,263.21 C86.18,261.97 90.73,260.52 94.45,258.99 C98.17,257.46 101.48,255.19 104.38,254.03 C107.27,252.87 109.34,252.16 111.82,252.04 C114.3,251.91 115.96,252.95 119.27,253.28 C122.58,253.61 127.54,253.91 131.68,254.03 C135.82,254.16 139.95,254.16 144.09,254.03 C148.23,253.91 152.36,253.82 156.5,253.28 C160.64,252.74 164.81,251.92 168.91,250.8 C173,249.68 179.04,247.28 181.07,246.58 L181.07,281.82 C179.04,281.2 173,278.93 168.91,278.1 C164.81,277.27 160.64,277.27 156.5,276.86 C152.36,276.45 148.23,276.41 144.09,275.62 C139.95,274.83 135.82,273.1 131.68,272.15 C127.54,271.2 122.58,270.33 119.27,269.91 C115.96,269.5 114.3,269.49 111.82,269.66 C109.34,269.83 107.27,270.12 104.38,270.91 C101.48,271.7 98.17,273.39 94.45,274.38 C90.73,275.37 86.18,275.83 82.04,276.86 C77.91,277.89 73.78,279.01 69.64,280.58 C65.5,282.15 61.37,284.1 57.23,286.29 C53.09,288.48 49.04,291.18 44.82,293.74 C40.6,296.31 34.06,300.36 31.91,301.68 Z" class="rib"/><path d="M31.91,283.81 C34.06,283.27 40.6,281.74 44.82,280.58 C49.04,279.42 53.09,277.98 57.23,276.86 C61.37,275.74 65.5,274.91 69.64,273.88 C73.78,272.85 77.91,271.82 82.04,270.66 C86.18,269.5 90.73,268.3 94.45,266.93 C98.17,265.56 101.48,263.59 104.38,262.47 C107.27,261.35 109.34,260.52 111.82,260.23 C114.3,259.94 115.96,260.23 119.27,260.73 C122.58,261.23 127.54,262.51 131.68,263.21 C135.82,263.91 139.95,264.62 144.09,264.95 C148.23,265.28 152.36,265.28 156.5,265.2 C160.64,265.12 164.81,264.66 168.91,264.45 C173,264.24 179.04,264.04 181.07,263.96" class="lg"/><path d="M37.37,245.09 C38.61,246.04 41.51,248.28 44.82,250.8 C48.13,253.32 53.09,257.54 57.23,260.23 C61.37,262.92 65.5,265.19 69.64,266.93 C73.78,268.67 79.65,269.77 82.04,270.66 C84.43,271.56 82.46,271.66 84,272.3 C85.54,272.94 88.87,273.64 91.3,274.49 C93.73,275.34 96.17,276.44 98.6,277.41 C101.03,278.38 103.47,279.48 105.9,280.33 C108.33,281.18 110.77,281.85 113.2,282.52 C115.63,283.19 117.76,283.67 120.5,284.34 C123.24,285.01 128.1,286.16 129.62,286.53 L129.62,312.45 C128.1,310.87 123.24,305.64 120.5,302.96 C117.76,300.28 115.63,298.58 113.2,296.39 C110.77,294.2 108.33,291.95 105.9,289.82 C103.47,287.69 101.03,285.25 98.6,283.61 C96.17,281.97 93.73,280.87 91.3,279.96 C88.87,279.05 85.54,278.66 84,278.14 C82.46,277.62 84.43,277.65 82.04,276.86 C79.65,276.07 73.78,274.55 69.64,273.39 C65.5,272.23 61.37,271.19 57.23,269.91 C53.09,268.63 48.13,266.81 44.82,265.69 C41.51,264.57 38.61,263.62 37.37,263.21 Z" class="rib"/><path d="M36.92,253.76 C37.65,254.25 39.35,255.4 41.3,256.68 C43.25,257.96 46.17,259.96 48.6,261.42 C51.03,262.88 53.47,264.22 55.9,265.44 C58.33,266.66 60.77,267.75 63.2,268.72 C65.63,269.69 68.07,270.49 70.5,271.28 C72.93,272.07 75.88,273 77.8,273.47 C79.72,273.95 79.27,273.36 82.04,274.13 C84.82,274.9 90.31,276.4 94.45,278.1 C98.59,279.8 102.72,281.83 106.86,284.31 C111,286.79 115.42,290.01 119.27,292.99 C123.12,295.97 128.16,300.65 129.94,302.18" class="lr"/><rect x="112.2" y="329.2" width="76" height="17" class="sbox"/><text x="113.7" y="335.4" class="st" textLength="64.31" lengthAdjust="spacingAndGlyphs">NC Group:R=0.15  P=0.53</text><text x="113.7" y="342.2" class="st" textLength="68.42" lengthAdjust="spacingAndGlyphs">PC Group:R=-0.31  P=0.043</text><rect x="24.5" y="195.4" width="164" height="152" class="bd"/><line x1="63.9" y1="347.4" x2="63.9" y2="349" class="tk"/><text x="63.9" y="352.6" class="tl" text-anchor="middle" textLength="4.60" lengthAdjust="spacingAndGlyphs">10</text><line x1="122.2" y1="347.4" x2="122.2" y2="349" class="tk"/><text x="122.2" y="352.6" class="tl" text-anchor="middle" textLength="4.60" lengthAdjust="spacingAndGlyphs">15</text><line x1="181.3" y1="347.4" x2="181.3" y2="349" class="tk"/><text x="181.3" y="352.6" class="tl" text-anchor="middle" textLength="4.60" lengthAdjust="spacingAndGlyphs">20</text><line x1="22.9" y1="207.2" x2="24.5" y2="207.2" class="tk"/><text x="22.3" y="209.05" class="tl" text-anchor="end" textLength="9.20" lengthAdjust="spacingAndGlyphs">6000</text><line x1="22.9" y1="249.1" x2="24.5" y2="249.1" class="tk"/><text x="22.3" y="250.95" class="tl" text-anchor="end" textLength="9.20" lengthAdjust="spacingAndGlyphs">5000</text><line x1="22.9" y1="290.8" x2="24.5" y2="290.8" class="tk"/><text x="22.3" y="292.65" class="tl" text-anchor="end" textLength="9.20" lengthAdjust="spacingAndGlyphs">4000</text><line x1="22.9" y1="332.4" x2="24.5" y2="332.4" class="tk"/><text x="22.3" y="334.25" class="tl" text-anchor="end" textLength="9.20" lengthAdjust="spacingAndGlyphs">3000</text><text x="106.5" y="187.6" class="ti" text-anchor="middle" textLength="170.41" lengthAdjust="spacingAndGlyphs">Correlation between Occipital Lobe Volume and Serum IgA Level</text><text x="106.5" y="192.8" class="su" text-anchor="middle" textLength="65.95" lengthAdjust="spacingAndGlyphs">PC Group (n=43) vs. NC Control (n=20)</text><text x="106.5" y="358.7" class="ax" text-anchor="middle" textLength="68.53" lengthAdjust="spacingAndGlyphs">Serum IgA Level(ug/ml)</text><text transform="translate(10.5,271.4) rotate(-90)" class="ax" text-anchor="middle" textLength="84.38" lengthAdjust="spacingAndGlyphs">Occipital Lobe Volume(mm3)</text><text x="8.1" y="199" class="lt" textLength="8.34" lengthAdjust="spacingAndGlyphs">d</text><text x="193.8" y="267.1" class="lgt" textLength="18.11" lengthAdjust="spacingAndGlyphs">Group</text><rect x="193.8" y="269.5" width="5.2" height="10.6" fill="#d9d9d9"/><line x1="194.2" y1="272.3" x2="198.6" y2="272.3" class="lg"/><line x1="194.2" y1="277.6" x2="198.6" y2="277.6" class="lr"/><circle cx="196.4" cy="272.3" r="1.4" class="pg"/><circle cx="196.4" cy="277.6" r="1.4" class="pr"/><text x="200.8" y="274" class="lgl" textLength="20.87" lengthAdjust="spacingAndGlyphs">NC group</text><text x="200.8" y="279.3" class="lgl" textLength="20.60" lengthAdjust="spacingAndGlyphs">PC group</text></g>
<g><line x1="260.6" y1="195.5" x2="260.6" y2="347.4" class="gm"/><line x1="321.4" y1="195.5" x2="321.4" y2="347.4" class="gm"/><line x1="382.2" y1="195.5" x2="382.2" y2="347.4" class="gm"/><line x1="251.2" y1="218.17" x2="419.4" y2="218.17" class="gm"/><line x1="251.2" y1="255.3" x2="419.4" y2="255.3" class="gm"/><line x1="251.2" y1="292.43" x2="419.4" y2="292.43" class="gm"/><line x1="251.2" y1="329.57" x2="419.4" y2="329.57" class="gm"/><line x1="291" y1="195.5" x2="291" y2="347.4" class="gM"/><line x1="351.7" y1="195.5" x2="351.7" y2="347.4" class="gM"/><line x1="412.6" y1="195.5" x2="412.6" y2="347.4" class="gM"/><line x1="251.2" y1="199.6" x2="419.4" y2="199.6" class="gM"/><line x1="251.2" y1="237" x2="419.4" y2="237" class="gM"/><line x1="251.2" y1="274" x2="419.4" y2="274" class="gM"/><line x1="251.2" y1="311" x2="419.4" y2="311" class="gM"/><circle cx="341.82" cy="202.41" r="1.25" class="pg"/><circle cx="326.69" cy="254.28" r="1.25" class="pg"/><circle cx="318.99" cy="266.44" r="1.25" class="pg"/><circle cx="292.69" cy="272.64" r="1.25" class="pg"/><circle cx="288.96" cy="278.85" r="1.25" class="pg"/><circle cx="364.41" cy="277.61" r="1.25" class="pg"/><circle cx="370.86" cy="276.86" r="1.25" class="pg"/><circle cx="412.31" cy="275.87" r="1.25" class="pg"/><circle cx="385.26" cy="288.53" r="1.25" class="pg"/><circle cx="333.88" cy="300.44" r="1.25" class="pg"/><circle cx="321.47" cy="302.92" r="1.25" class="pg"/><circle cx="296.41" cy="305.15" r="1.25" class="pg"/><circle cx="306.83" cy="307.39" r="1.25" class="pg"/><circle cx="372.35" cy="298.45" r="1.25" class="pg"/><circle cx="385.26" cy="299.69" r="1.25" class="pg"/><circle cx="258.93" cy="313.59" r="1.25" class="pg"/><circle cx="404.12" cy="311.11" r="1.25" class="pg"/><circle cx="306.58" cy="334.93" r="1.25" class="pg"/><circle cx="341.82" cy="340.64" r="1.25" class="pg"/><circle cx="265.39" cy="276.86" r="1.25" class="pg"/><circle cx="263.9" cy="253.53" r="1.25" class="pr"/><circle cx="273.58" cy="257.01" r="1.25" class="pr"/><circle cx="290.45" cy="256.76" r="1.25" class="pr"/><circle cx="272.09" cy="270.16" r="1.25" class="pr"/><circle cx="275.07" cy="274.38" r="1.25" class="pr"/><circle cx="286.48" cy="269.17" r="1.25" class="pr"/><circle cx="266.63" cy="274.88" r="1.25" class="pr"/><circle cx="264.89" cy="276.36" r="1.25" class="pr"/><circle cx="308.07" cy="266.44" r="1.25" class="pr"/><circle cx="319.24" cy="261.97" r="1.25" class="pr"/><circle cx="323.71" cy="263.21" r="1.25" class="pr"/><circle cx="303.85" cy="273.14" r="1.25" class="pr"/><circle cx="298.15" cy="276.36" r="1.25" class="pr"/><circle cx="313.04" cy="277.36" r="1.25" class="pr"/><circle cx="328.92" cy="274.38" r="1.25" class="pr"/><circle cx="326.44" cy="279.84" r="1.25" class="pr"/><circle cx="302.12" cy="282.32" r="1.25" class="pr"/><circle cx="334.38" cy="285.05" r="1.25" class="pr"/><circle cx="303.11" cy="287.53" r="1.25" class="pr"/><circle cx="308.07" cy="290.51" r="1.25" class="pr"/><circle cx="327.68" cy="292" r="1.25" class="pr"/><circle cx="339.09" cy="291.75" r="1.25" class="pr"/><circle cx="320.23" cy="295.72" r="1.25" class="pr"/><circle cx="315.27" cy="298.45" r="1.25" class="pr"/><circle cx="316.01" cy="299.94" r="1.25" class="pr"/><circle cx="330.91" cy="299.2" r="1.25" class="pr"/><circle cx="264.89" cy="305.4" r="1.25" class="pr"/><circle cx="307.33" cy="303.91" r="1.25" class="pr"/><circle cx="283.26" cy="309.62" r="1.25" class="pr"/><circle cx="308.82" cy="310.12" r="1.25" class="pr"/><circle cx="289.46" cy="315.08" r="1.25" class="pr"/><circle cx="316.51" cy="314.58" r="1.25" class="pr"/><circle cx="335.87" cy="319.05" r="1.25" class="pr"/><circle cx="359.45" cy="321.28" r="1.25" class="pr"/><circle cx="304.85" cy="322.28" r="1.25" class="pr"/><circle cx="276.55" cy="326.25" r="1.25" class="pr"/><circle cx="312.79" cy="326.25" r="1.25" class="pr"/><circle cx="308.82" cy="328.48" r="1.25" class="pr"/><circle cx="293.18" cy="330.22" r="1.25" class="pr"/><circle cx="331.9" cy="326.25" r="1.25" class="pr"/><circle cx="311.05" cy="294.98" r="1.25" class="pr"/><path d="M259.01,282.48 C261.02,283.01 267.71,284.89 271.06,285.69 C274.41,286.49 276.41,287.09 279.09,287.3 C281.77,287.51 284.44,287.2 287.12,286.98 C289.8,286.76 292.47,286.44 295.15,286.01 C297.83,285.58 300.5,285 303.18,284.41 C305.86,283.82 308.52,283.07 311.2,282.48 C313.88,281.89 316.55,281.42 319.23,280.88 C321.91,280.34 324.58,280.21 327.26,279.27 C329.94,278.33 332.88,276.33 335.29,275.26 C337.7,274.19 339.04,273.25 341.72,272.85 C344.4,272.45 345.96,272.39 351.35,272.85 C356.75,273.31 368.23,274.95 374.09,275.62 C379.95,276.29 382.36,276.32 386.5,276.86 C390.64,277.4 394.61,278.11 398.91,278.85 C403.21,279.6 410.08,280.92 412.31,281.33 L412.31,312.1 C410.08,310.78 403.21,306.72 398.91,304.16 C394.61,301.6 390.64,298.58 386.5,296.72 C382.36,294.86 379.95,294.61 374.09,292.99 C368.23,291.37 356.75,287.98 351.35,286.98 C345.96,285.98 344.4,286.79 341.72,286.98 C339.04,287.17 337.7,287.65 335.29,288.1 C332.88,288.56 329.94,289.17 327.26,289.71 C324.58,290.25 321.91,290.77 319.23,291.31 C316.55,291.85 313.88,292.38 311.2,292.92 C308.52,293.46 305.86,293.91 303.18,294.53 C300.5,295.14 297.83,295.94 295.15,296.61 C292.47,297.28 289.8,297.82 287.12,298.54 C284.44,299.26 281.77,299.88 279.09,300.95 C276.41,302.02 274.41,303.09 271.06,304.96 C267.71,306.83 261.02,310.99 259.01,312.19 Z" class="rib"/><path d="M259.01,298.06 C261.02,297.66 266.38,296.51 271.06,295.65 C275.75,294.79 281.77,293.91 287.12,292.92 C292.47,291.93 297.83,290.78 303.18,289.71 C308.53,288.64 315.22,287.3 319.23,286.5 C323.24,285.7 324.58,285.48 327.26,284.89 C329.94,284.3 332.88,283.57 335.29,282.96 C337.7,282.34 339.04,281.55 341.72,281.2 C344.4,280.85 345.96,280.36 351.35,280.88 C356.75,281.4 368.23,283.32 374.09,284.31 C379.95,285.3 382.36,285.63 386.5,286.79 C390.64,287.95 394.61,289.61 398.91,291.26 C403.21,292.91 410.08,295.81 412.31,296.72" class="lg"/><path d="M264.31,268.83 C265.17,270.03 267.52,273.92 269.45,276.06 C271.38,278.2 273.74,280.02 275.88,281.68 C278.02,283.34 280.16,284.81 282.3,286.01 C284.44,287.21 286.58,288.11 288.72,288.91 C290.86,289.71 293.01,290.35 295.15,290.83 C297.29,291.31 299.43,291.59 301.57,291.8 C303.71,292.01 305.85,292.12 307.99,292.12 C310.13,292.12 312.28,291.8 314.42,291.8 C316.56,291.8 318.7,291.85 320.84,292.12 C322.98,292.39 325.12,292.92 327.26,293.4 C329.4,293.88 331.55,294.37 333.69,295.01 C335.83,295.65 337.97,296.4 340.11,297.26 C342.25,298.12 344.39,299.27 346.53,300.15 C348.67,301.03 350.82,301.75 352.96,302.55 C355.1,303.35 358.31,304.56 359.38,304.96 L359.38,328.25 C358.31,326.91 355.1,322.5 352.96,320.22 C350.82,317.95 348.67,316.47 346.53,314.6 C344.39,312.73 342.25,310.72 340.11,308.98 C337.97,307.24 335.83,305.58 333.69,304.16 C331.55,302.74 329.4,301.41 327.26,300.47 C325.12,299.53 322.98,299 320.84,298.54 C318.7,298.09 316.56,297.79 314.42,297.74 C312.28,297.69 310.13,298.22 307.99,298.22 C305.85,298.22 303.71,297.96 301.57,297.74 C299.43,297.52 297.29,297.33 295.15,296.93 C293.01,296.53 290.86,296 288.72,295.33 C286.58,294.66 284.44,293.99 282.3,292.92 C280.16,291.85 278.02,290.38 275.88,288.91 C273.74,287.44 271.38,285.83 269.45,284.09 C267.52,282.35 265.17,279.41 264.31,278.47 Z" class="rib"/><path d="M264.31,275.26 C265.17,276.06 267.52,278.46 269.45,280.07 C271.38,281.68 273.74,283.42 275.88,284.89 C278.02,286.36 280.16,287.76 282.3,288.91 C284.44,290.06 286.58,291 288.72,291.8 C290.86,292.6 293.01,293.19 295.15,293.72 C297.29,294.25 299.43,294.74 301.57,295.01 C303.71,295.28 305.85,295.41 307.99,295.33 C310.13,295.25 312.28,294.58 314.42,294.53 C316.56,294.48 318.7,294.66 320.84,295.01 C322.98,295.36 325.12,295.89 327.26,296.61 C329.4,297.33 331.55,298.27 333.69,299.34 C335.83,300.41 337.97,301.7 340.11,303.04 C342.25,304.38 344.39,305.93 346.53,307.37 C348.67,308.81 350.82,310.1 352.96,311.71 C355.1,313.32 358.31,316.13 359.38,317.01" class="lr"/><rect x="342.7" y="331.7" width="76.4" height="14.8" class="sbox"/><text x="344.4" y="336.9" class="st" textLength="69.61" lengthAdjust="spacingAndGlyphs">NC Group:R=0.058  P=0.81</text><text x="344.4" y="343.5" class="st" textLength="70.92" lengthAdjust="spacingAndGlyphs">PC Group:R=-0.27  P=0.079</text><rect x="251.2" y="195.5" width="168.2" height="151.9" class="bd"/><line x1="291" y1="347.4" x2="291" y2="349" class="tk"/><text x="291" y="352.6" class="tl" text-anchor="middle" textLength="4.77" lengthAdjust="spacingAndGlyphs">10</text><line x1="351.7" y1="347.4" x2="351.7" y2="349" class="tk"/><text x="351.7" y="352.6" class="tl" text-anchor="middle" textLength="4.77" lengthAdjust="spacingAndGlyphs">15</text><line x1="412.6" y1="347.4" x2="412.6" y2="349" class="tk"/><text x="412.6" y="352.6" class="tl" text-anchor="middle" textLength="4.77" lengthAdjust="spacingAndGlyphs">20</text><line x1="249.6" y1="199.6" x2="251.2" y2="199.6" class="tk"/><text x="249" y="201.45" class="tl" text-anchor="end" textLength="11.92" lengthAdjust="spacingAndGlyphs">18000</text><line x1="249.6" y1="237" x2="251.2" y2="237" class="tk"/><text x="249" y="238.85" class="tl" text-anchor="end" textLength="11.92" lengthAdjust="spacingAndGlyphs">16000</text><line x1="249.6" y1="274" x2="251.2" y2="274" class="tk"/><text x="249" y="275.85" class="tl" text-anchor="end" textLength="11.92" lengthAdjust="spacingAndGlyphs">14000</text><line x1="249.6" y1="311" x2="251.2" y2="311" class="tk"/><text x="249" y="312.85" class="tl" text-anchor="end" textLength="11.92" lengthAdjust="spacingAndGlyphs">12000</text><text x="335.3" y="187.6" class="ti" text-anchor="middle" textLength="171.20" lengthAdjust="spacingAndGlyphs">Correlation between Insular Lobe Volume and Serum IgA Level</text><text x="335.3" y="192.8" class="su" text-anchor="middle" textLength="68.36" lengthAdjust="spacingAndGlyphs">PC Group (n=43) vs. NC Control (n=20)</text><text x="335.3" y="358.7" class="ax" text-anchor="middle" textLength="71.03" lengthAdjust="spacingAndGlyphs">Serum IgA Level(ug/ml)</text><text transform="translate(234.2,271.45) rotate(-90)" class="ax" text-anchor="middle" textLength="81.43" lengthAdjust="spacingAndGlyphs">Insular Lobe Volume(mm3)</text><text x="224" y="200.8" class="lt" textLength="6.66" lengthAdjust="spacingAndGlyphs">e</text><text x="425.4" y="267.5" class="lgt" textLength="18.77" lengthAdjust="spacingAndGlyphs">Group</text><rect x="425.4" y="269.9" width="5.2" height="10.6" fill="#d9d9d9"/><line x1="425.8" y1="272.7" x2="430.2" y2="272.7" class="lg"/><line x1="425.8" y1="278" x2="430.2" y2="278" class="lr"/><circle cx="428" cy="272.7" r="1.4" class="pg"/><circle cx="428" cy="278" r="1.4" class="pr"/><text x="432.4" y="274.4" class="lgl" textLength="21.63" lengthAdjust="spacingAndGlyphs">NC group</text><text x="432.4" y="279.7" class="lgl" textLength="21.35" lengthAdjust="spacingAndGlyphs">PC group</text></g>
<g><line x1="492.3" y1="195.5" x2="492.3" y2="347.4" class="gm"/><line x1="552.1" y1="195.5" x2="552.1" y2="347.4" class="gm"/><line x1="611.9" y1="195.5" x2="611.9" y2="347.4" class="gm"/><line x1="482.4" y1="219.9" x2="648.5" y2="219.9" class="gm"/><line x1="482.4" y1="256.3" x2="648.5" y2="256.3" class="gm"/><line x1="482.4" y1="292.7" x2="648.5" y2="292.7" class="gm"/><line x1="482.4" y1="329.1" x2="648.5" y2="329.1" class="gm"/><line x1="522.2" y1="195.5" x2="522.2" y2="347.4" class="gM"/><line x1="582" y1="195.5" x2="582" y2="347.4" class="gM"/><line x1="641.8" y1="195.5" x2="641.8" y2="347.4" class="gM"/><line x1="482.4" y1="201.7" x2="648.5" y2="201.7" class="gM"/><line x1="482.4" y1="238" x2="648.5" y2="238" class="gM"/><line x1="482.4" y1="274.5" x2="648.5" y2="274.5" class="gM"/><line x1="482.4" y1="310.9" x2="648.5" y2="310.9" class="gM"/><circle cx="556.93" cy="210.6" r="1.25" class="pg"/><circle cx="640.82" cy="222.51" r="1.25" class="pg"/><circle cx="549.24" cy="232.93" r="1.25" class="pg"/><circle cx="564.13" cy="233.18" r="1.25" class="pg"/><circle cx="601.61" cy="237.15" r="1.25" class="pg"/><circle cx="600.36" cy="242.12" r="1.25" class="pg"/><circle cx="593.91" cy="245.59" r="1.25" class="pg"/><circle cx="527.15" cy="245.09" r="1.25" class="pg"/><circle cx="489.93" cy="260.73" r="1.25" class="pg"/><circle cx="519.71" cy="262.22" r="1.25" class="pg"/><circle cx="632.88" cy="258.5" r="1.25" class="pg"/><circle cx="551.97" cy="273.88" r="1.25" class="pg"/><circle cx="571.82" cy="275.87" r="1.25" class="pg"/><circle cx="537.08" cy="283.07" r="1.25" class="pg"/><circle cx="614.26" cy="281.33" r="1.25" class="pg"/><circle cx="571.82" cy="291.01" r="1.25" class="pg"/><circle cx="523.43" cy="297.96" r="1.25" class="pg"/><circle cx="537.08" cy="300.19" r="1.25" class="pg"/><circle cx="614.26" cy="300.19" r="1.25" class="pg"/><circle cx="496.38" cy="316.32" r="1.25" class="pg"/><circle cx="521.45" cy="201.42" r="1.25" class="pr"/><circle cx="506.31" cy="205.88" r="1.25" class="pr"/><circle cx="543.53" cy="206.88" r="1.25" class="pr"/><circle cx="560.91" cy="207.12" r="1.25" class="pr"/><circle cx="539.07" cy="221.02" r="1.25" class="pr"/><circle cx="538.32" cy="224" r="1.25" class="pr"/><circle cx="533.85" cy="227.97" r="1.25" class="pr"/><circle cx="495.14" cy="229.96" r="1.25" class="pr"/><circle cx="517.47" cy="233.93" r="1.25" class="pr"/><circle cx="556.19" cy="234.92" r="1.25" class="pr"/><circle cx="558.92" cy="237.65" r="1.25" class="pr"/><circle cx="532.61" cy="240.13" r="1.25" class="pr"/><circle cx="528.89" cy="241.87" r="1.25" class="pr"/><circle cx="545.52" cy="243.11" r="1.25" class="pr"/><circle cx="569.09" cy="243.36" r="1.25" class="pr"/><circle cx="562.64" cy="246.58" r="1.25" class="pr"/><circle cx="496.13" cy="249.07" r="1.25" class="pr"/><circle cx="520.2" cy="250.06" r="1.25" class="pr"/><circle cx="537.82" cy="250.8" r="1.25" class="pr"/><circle cx="504.57" cy="254.53" r="1.25" class="pr"/><circle cx="538.57" cy="256.51" r="1.25" class="pr"/><circle cx="557.93" cy="256.01" r="1.25" class="pr"/><circle cx="498.12" cy="265.45" r="1.25" class="pr"/><circle cx="503.33" cy="269.91" r="1.25" class="pr"/><circle cx="541.8" cy="262.72" r="1.25" class="pr"/><circle cx="549.74" cy="265.2" r="1.25" class="pr"/><circle cx="553.71" cy="273.88" r="1.25" class="pr"/><circle cx="507.8" cy="281.08" r="1.25" class="pr"/><circle cx="551.47" cy="284.31" r="1.25" class="pr"/><circle cx="534.6" cy="286.54" r="1.25" class="pr"/><circle cx="546.26" cy="287.28" r="1.25" class="pr"/><circle cx="539.56" cy="290.76" r="1.25" class="pr"/><circle cx="550.73" cy="290.76" r="1.25" class="pr"/><circle cx="547.01" cy="293.74" r="1.25" class="pr"/><circle cx="514.25" cy="295.72" r="1.25" class="pr"/><circle cx="523.93" cy="295.72" r="1.25" class="pr"/><circle cx="543.53" cy="297.96" r="1.25" class="pr"/><circle cx="557.43" cy="300.19" r="1.25" class="pr"/><circle cx="565.87" cy="300.93" r="1.25" class="pr"/><circle cx="564.63" cy="304.16" r="1.25" class="pr"/><circle cx="535.34" cy="306.15" r="1.25" class="pr"/><circle cx="561.9" cy="314.34" r="1.25" class="pr"/><circle cx="589.2" cy="336.42" r="1.25" class="pr"/><path d="M489.93,275.62 C491.58,275 496.54,273.02 499.85,271.9 C503.16,270.78 506.47,270.16 509.78,268.92 C513.09,267.68 516.4,265.94 519.71,264.45 C523.02,262.96 525.92,261.56 529.64,259.99 C533.36,258.42 537.9,256.76 542.04,255.02 C546.17,253.28 550.73,250.88 554.45,249.56 C558.17,248.24 561.49,247.7 564.38,247.08 C567.27,246.46 569.34,245.92 571.82,245.84 C574.3,245.76 575.96,245.96 579.27,246.58 C582.58,247.2 588.37,248.86 591.68,249.56 C594.99,250.26 596.23,250.8 599.12,250.8 C602.01,250.8 605.74,250.18 609.05,249.56 C612.36,248.94 615.67,248.11 618.98,247.08 C622.29,246.05 625.27,245.22 628.91,243.36 C632.55,241.5 638.84,237.15 640.82,235.91 L640.82,263.96 C638.84,263.71 632.55,262.8 628.91,262.47 C625.27,262.14 622.29,261.93 618.98,261.97 C615.67,262.01 612.36,262.51 609.05,262.72 C605.74,262.93 602.01,263.25 599.12,263.21 C596.23,263.17 594.99,262.97 591.68,262.47 C588.37,261.97 582.58,260.73 579.27,260.23 C575.96,259.73 574.3,259.41 571.82,259.49 C569.34,259.57 567.27,259.99 564.38,260.73 C561.49,261.48 558.17,262.43 554.45,263.96 C550.73,265.49 546.17,267.76 542.04,269.91 C537.9,272.06 533.36,274.67 529.64,276.86 C525.92,279.05 523.02,281 519.71,283.07 C516.4,285.14 513.09,287 509.78,289.27 C506.47,291.54 503.16,294.16 499.85,296.72 C496.54,299.29 491.58,303.34 489.93,304.66 Z" class="rib"/><path d="M489.93,290.51 C491.58,289.48 496.54,286.25 499.85,284.31 C503.16,282.37 506.47,280.59 509.78,278.85 C513.09,277.11 516.4,275.53 519.71,273.88 C523.02,272.23 525.92,270.7 529.64,268.92 C533.36,267.14 537.9,265.28 542.04,263.21 C546.17,261.14 550.73,258.12 554.45,256.51 C558.17,254.9 561.49,254.19 564.38,253.53 C567.27,252.87 569.34,252.58 571.82,252.54 C574.3,252.5 575.96,252.74 579.27,253.28 C582.58,253.82 588.37,255.23 591.68,255.77 C594.99,256.31 596.23,256.51 599.12,256.51 C602.01,256.51 605.74,256.1 609.05,255.77 C612.36,255.44 615.67,255.07 618.98,254.53 C622.29,253.99 625.27,253.28 628.91,252.54 C632.55,251.79 638.84,250.47 640.82,250.06" class="lg"/><path d="M495.14,240.88 C496.75,241.58 501.14,243.85 504.82,245.09 C508.5,246.33 513.09,247.16 517.23,248.32 C521.37,249.48 525.5,250.67 529.64,252.04 C533.77,253.41 538.73,255.19 542.04,256.51 C545.35,257.83 547.13,258.83 549.49,259.99 C551.85,261.15 554.16,261.97 556.19,263.46 C558.22,264.95 559.83,266.89 561.65,268.92 C563.47,270.95 565.29,273.43 567.11,275.62 C568.93,277.81 570.71,279.88 572.57,282.07 C574.43,284.26 576.42,286.54 578.28,288.77 C580.14,291 581.92,293.07 583.74,295.47 C585.56,297.87 588.29,301.89 589.2,303.17 L589.2,334.44 C588.29,332.33 585.56,325.88 583.74,321.78 C581.92,317.68 580.14,313.88 578.28,309.87 C576.42,305.86 574.43,301.31 572.57,297.71 C570.71,294.11 568.93,291.26 567.11,288.28 C565.29,285.3 563.47,282.36 561.65,279.84 C559.83,277.32 558.05,275.17 556.19,273.14 C554.33,271.11 552.84,269.21 550.48,267.68 C548.12,266.15 545.51,265.32 542.04,263.96 C538.57,262.59 533.77,260.65 529.64,259.49 C525.5,258.33 521.37,257.42 517.23,257.01 C513.09,256.6 508.5,256.68 504.82,257.01 C501.14,257.34 496.75,258.66 495.14,258.99 Z" class="rib"/><path d="M495.14,249.56 C496.75,249.77 501.14,250.3 504.82,250.8 C508.5,251.3 513.09,251.71 517.23,252.54 C521.37,253.37 525.92,254.61 529.64,255.77 C533.36,256.93 537,258.42 539.56,259.49 C542.12,260.56 543.2,261.23 545.02,262.22 C546.84,263.21 548.62,264.08 550.48,265.45 C552.34,266.81 554.33,268.55 556.19,270.41 C558.05,272.27 559.83,274.38 561.65,276.61 C563.47,278.84 565.29,281.25 567.11,283.81 C568.93,286.38 570.71,289.23 572.57,292 C574.43,294.77 576.42,297.46 578.28,300.44 C580.14,303.42 581.92,306.36 583.74,309.87 C585.56,313.38 588.29,319.59 589.2,321.53" class="lr"/><rect x="573.2" y="195.4" width="75" height="15.8" class="sbox"/><text x="574.7" y="202.2" class="st" textLength="65.68" lengthAdjust="spacingAndGlyphs">NC Group:R=0.17  P=0.47</text><text x="574.7" y="209" class="st" textLength="66.97" lengthAdjust="spacingAndGlyphs">PC Group:R=-0.3  P=0.047</text><rect x="482.4" y="195.5" width="166.1" height="151.9" class="bd"/><line x1="522.2" y1="347.4" x2="522.2" y2="349" class="tk"/><text x="522.2" y="352.6" class="tl" text-anchor="middle" textLength="4.70" lengthAdjust="spacingAndGlyphs">10</text><line x1="582" y1="347.4" x2="582" y2="349" class="tk"/><text x="582" y="352.6" class="tl" text-anchor="middle" textLength="4.70" lengthAdjust="spacingAndGlyphs">15</text><line x1="641.8" y1="347.4" x2="641.8" y2="349" class="tk"/><text x="641.8" y="352.6" class="tl" text-anchor="middle" textLength="4.70" lengthAdjust="spacingAndGlyphs">20</text><line x1="480.8" y1="201.7" x2="482.4" y2="201.7" class="tk"/><text x="480.2" y="203.55" class="tl" text-anchor="end" textLength="11.75" lengthAdjust="spacingAndGlyphs">25000</text><line x1="480.8" y1="238" x2="482.4" y2="238" class="tk"/><text x="480.2" y="239.85" class="tl" text-anchor="end" textLength="11.75" lengthAdjust="spacingAndGlyphs">22500</text><line x1="480.8" y1="274.5" x2="482.4" y2="274.5" class="tk"/><text x="480.2" y="276.35" class="tl" text-anchor="end" textLength="11.75" lengthAdjust="spacingAndGlyphs">20000</text><line x1="480.8" y1="310.9" x2="482.4" y2="310.9" class="tk"/><text x="480.2" y="312.75" class="tl" text-anchor="end" textLength="11.75" lengthAdjust="spacingAndGlyphs">17500</text><text x="565.45" y="187.6" class="ti" text-anchor="middle" textLength="175.92" lengthAdjust="spacingAndGlyphs">Correlation between Cingulate Lobe Volume and Serum IgA Level</text><text x="565.45" y="192.8" class="su" text-anchor="middle" textLength="67.35" lengthAdjust="spacingAndGlyphs">PC Group (n=43) vs. NC Control (n=20)</text><text x="565.45" y="358.7" class="ax" text-anchor="middle" textLength="69.99" lengthAdjust="spacingAndGlyphs">Serum IgA Level(ug/ml)</text><text transform="translate(466.2,271.45) rotate(-90)" class="ax" text-anchor="middle" textLength="88.26" lengthAdjust="spacingAndGlyphs">Cingulate Lobe Volume(mm3)</text><text x="456.1" y="200.5" class="lt" textLength="5.00" lengthAdjust="spacingAndGlyphs">f</text><text x="653.9" y="266.5" class="lgt" textLength="18.50" lengthAdjust="spacingAndGlyphs">Group</text><rect x="653.9" y="268.9" width="5.2" height="10.6" fill="#d9d9d9"/><line x1="654.3" y1="271.7" x2="658.7" y2="271.7" class="lg"/><line x1="654.3" y1="277" x2="658.7" y2="277" class="lr"/><circle cx="656.5" cy="271.7" r="1.4" class="pg"/><circle cx="656.5" cy="277" r="1.4" class="pr"/><text x="660.9" y="273.4" class="lgl" textLength="21.31" lengthAdjust="spacingAndGlyphs">NC group</text><text x="660.9" y="278.7" class="lgl" textLength="21.04" lengthAdjust="spacingAndGlyphs">PC group</text></g>
<g><line x1="55.55" y1="375.5" x2="55.55" y2="527" class="gm"/><line x1="110.25" y1="375.5" x2="110.25" y2="527" class="gm"/><line x1="164.95" y1="375.5" x2="164.95" y2="527" class="gm"/><line x1="24.2" y1="398.58" x2="187.4" y2="398.58" class="gm"/><line x1="24.2" y1="446.03" x2="187.4" y2="446.03" class="gm"/><line x1="24.2" y1="493.48" x2="187.4" y2="493.48" class="gm"/><line x1="28.2" y1="375.5" x2="28.2" y2="527" class="gM"/><line x1="83" y1="375.5" x2="83" y2="527" class="gM"/><line x1="137.6" y1="375.5" x2="137.6" y2="527" class="gM"/><line x1="24.2" y1="422.3" x2="187.4" y2="422.3" class="gM"/><line x1="24.2" y1="469.8" x2="187.4" y2="469.8" class="gM"/><line x1="24.2" y1="517.2" x2="187.4" y2="517.2" class="gM"/><circle cx="82.54" cy="382.16" r="1.25" class="pg"/><circle cx="62.93" cy="421.12" r="1.25" class="pg"/><circle cx="31.17" cy="430.8" r="1.25" class="pg"/><circle cx="33.9" cy="444.45" r="1.25" class="pg"/><circle cx="52.26" cy="442.96" r="1.25" class="pg"/><circle cx="55.24" cy="437.5" r="1.25" class="pg"/><circle cx="62.19" cy="443.21" r="1.25" class="pg"/><circle cx="62.69" cy="444.7" r="1.25" class="pg"/><circle cx="49.28" cy="455.87" r="1.25" class="pg"/><circle cx="49.78" cy="458.35" r="1.25" class="pg"/><circle cx="55.24" cy="461.33" r="1.25" class="pg"/><circle cx="50.77" cy="468.03" r="1.25" class="pg"/><circle cx="46.55" cy="473.74" r="1.25" class="pg"/><circle cx="55.24" cy="470.26" r="1.25" class="pg"/><circle cx="31.66" cy="474.23" r="1.25" class="pg"/><circle cx="58.96" cy="479.94" r="1.25" class="pg"/><circle cx="66.66" cy="481.68" r="1.25" class="pg"/><circle cx="56.48" cy="487.88" r="1.25" class="pg"/><circle cx="129.45" cy="472.99" r="1.25" class="pg"/><circle cx="57.97" cy="516.92" r="1.25" class="pg"/><circle cx="57.97" cy="520.64" r="1.25" class="pg"/><circle cx="128.45" cy="398.04" r="1.25" class="pr"/><circle cx="130.93" cy="427.58" r="1.25" class="pr"/><circle cx="85.27" cy="430.55" r="1.25" class="pr"/><circle cx="99.91" cy="430.31" r="1.25" class="pr"/><circle cx="112.32" cy="432.04" r="1.25" class="pr"/><circle cx="75.09" cy="438.25" r="1.25" class="pr"/><circle cx="129.2" cy="437.26" r="1.25" class="pr"/><circle cx="133.42" cy="440.23" r="1.25" class="pr"/><circle cx="100.16" cy="441.97" r="1.25" class="pr"/><circle cx="107.36" cy="441.47" r="1.25" class="pr"/><circle cx="72.86" cy="449.17" r="1.25" class="pr"/><circle cx="84.03" cy="449.42" r="1.25" class="pr"/><circle cx="93.21" cy="449.17" r="1.25" class="pr"/><circle cx="48.54" cy="455.12" r="1.25" class="pr"/><circle cx="82.04" cy="455.37" r="1.25" class="pr"/><circle cx="75.84" cy="457.61" r="1.25" class="pr"/><circle cx="95.45" cy="456.36" r="1.25" class="pr"/><circle cx="50.77" cy="459.84" r="1.25" class="pr"/><circle cx="82.54" cy="461.08" r="1.25" class="pr"/><circle cx="86.01" cy="463.56" r="1.25" class="pr"/><circle cx="96.69" cy="462.07" r="1.25" class="pr"/><circle cx="103.64" cy="461.33" r="1.25" class="pr"/><circle cx="77.82" cy="468.03" r="1.25" class="pr"/><circle cx="104.88" cy="466.54" r="1.25" class="pr"/><circle cx="75.84" cy="473.74" r="1.25" class="pr"/><circle cx="107.85" cy="474.23" r="1.25" class="pr"/><circle cx="38.61" cy="476.22" r="1.25" class="pr"/><circle cx="41.59" cy="478.45" r="1.25" class="pr"/><circle cx="56.73" cy="475.97" r="1.25" class="pr"/><circle cx="80.06" cy="476.72" r="1.25" class="pr"/><circle cx="83.28" cy="477.96" r="1.25" class="pr"/><circle cx="76.58" cy="478.45" r="1.25" class="pr"/><circle cx="59.71" cy="479.94" r="1.25" class="pr"/><circle cx="55.49" cy="481.43" r="1.25" class="pr"/><circle cx="49.28" cy="481.68" r="1.25" class="pr"/><circle cx="53.5" cy="487.88" r="1.25" class="pr"/><circle cx="51.27" cy="495.08" r="1.25" class="pr"/><circle cx="72.36" cy="496.32" r="1.25" class="pr"/><circle cx="91.97" cy="500.79" r="1.25" class="pr"/><circle cx="46.06" cy="507.74" r="1.25" class="pr"/><circle cx="48.54" cy="513.69" r="1.25" class="pr"/><circle cx="180.32" cy="431.55" r="1.25" class="pr"/><circle cx="69.64" cy="471.75" r="1.25" class="pr"/><path d="M31.42,433.8 C31.96,435.54 33.57,441.42 34.64,444.23 C35.71,447.04 36.78,448.69 37.85,450.66 C38.92,452.63 39.72,453.82 41.06,456.06 C42.4,458.3 44.28,462.35 45.88,464.09 C47.48,465.83 49.09,466.63 50.69,466.5 C52.29,466.37 54.17,464.58 55.51,463.28 C56.85,461.98 57.38,461.33 58.72,458.69 C60.06,456.05 61.93,451.73 63.54,447.45 C65.15,443.17 66.75,437.68 68.36,432.99 C69.97,428.31 71.58,423.49 73.18,419.34 C74.79,415.19 76.38,411.18 77.99,408.1 C79.59,405.02 80.94,402.89 82.81,400.88 C84.68,398.87 87.09,397.19 89.23,396.06 C91.37,394.94 93.52,394.26 95.66,394.13 C97.8,394 99.94,394.27 102.08,395.26 C104.22,396.25 106.63,398.06 108.5,400.07 C110.37,402.08 111.71,403.95 113.32,407.3 C114.93,410.65 116.8,416.13 118.14,420.15 C119.48,424.16 120.28,427.38 121.35,431.39 C122.42,435.4 123.28,440.75 124.56,444.23 C125.84,447.71 128.31,450.92 129.06,452.26 L129.38,488.98 C129.11,485.81 128.84,474.71 127.77,469.93 C126.7,465.15 124.3,463.24 122.96,460.29 C121.62,457.35 120.81,454.94 119.74,452.26 C118.67,449.58 117.6,446.91 116.53,444.23 C115.46,441.55 114.66,438.61 113.32,436.2 C111.98,433.79 110.37,431.65 108.5,429.78 C106.63,427.91 104.22,425.98 102.08,424.96 C99.94,423.94 97.8,423.73 95.66,423.68 C93.52,423.63 91.1,424.16 89.23,424.64 C87.36,425.12 86.29,425.44 84.42,426.57 C82.55,427.69 79.86,429.52 77.99,431.39 C76.12,433.26 74.79,434.87 73.18,437.81 C71.58,440.75 69.97,444.77 68.36,449.05 C66.75,453.33 65.01,459.92 63.54,463.5 C62.07,467.08 60.87,468.49 59.53,470.51 C58.19,472.53 56.98,474.52 55.51,475.65 C54.04,476.77 52.29,477.18 50.69,477.26 C49.09,477.34 47.48,476.99 45.88,476.13 C44.28,475.27 42.4,473.86 41.06,472.12 C39.72,470.38 38.92,467.83 37.85,465.69 C36.78,463.55 35.71,460.7 34.64,459.27 C33.57,457.83 31.96,457.44 31.42,457.08 Z" class="rib"/><path d="M31.42,445.04 C31.96,446.24 33.57,449.99 34.64,452.26 C35.71,454.53 36.78,456.45 37.85,458.69 C38.92,460.93 39.72,463.59 41.06,465.69 C42.4,467.79 44.28,470.11 45.88,471.31 C47.48,472.51 49.09,473.11 50.69,472.92 C52.29,472.73 54.17,471.39 55.51,470.19 C56.85,468.99 57.65,467.34 58.72,465.69 C59.79,464.04 60.59,463.33 61.93,460.29 C63.27,457.25 65.14,451.73 66.75,447.45 C68.36,443.17 69.96,438.62 71.57,434.6 C73.18,430.59 74.78,426.57 76.39,423.36 C78,420.15 79.33,417.47 81.2,415.33 C83.07,413.19 85.22,411.58 87.63,410.51 C90.04,409.44 93.25,408.91 95.66,408.91 C98.07,408.91 99.94,409.44 102.08,410.51 C104.22,411.58 106.63,413.32 108.5,415.33 C110.37,417.34 111.71,419.61 113.32,422.55 C114.93,425.49 116.53,428.84 118.14,432.99 C119.75,437.14 121.35,442.37 122.96,447.45 C124.56,452.53 126.7,459.25 127.77,463.5 C128.84,467.75 129.11,471.35 129.38,472.92" class="lg"/><path d="M39.45,482.07 C40.52,481.75 43.74,480.74 45.88,480.15 C48.02,479.56 50.16,479.21 52.3,478.54 C54.44,477.87 56.58,476.93 58.72,476.13 C60.86,475.33 62.74,474.79 65.15,473.72 C67.56,472.65 70.51,471.18 73.18,469.71 C75.86,468.24 78.53,466.63 81.2,464.89 C83.88,463.15 86.55,461.14 89.23,459.27 C91.91,457.4 94.58,455.52 97.26,453.65 C99.94,451.78 102.61,449.9 105.29,448.03 C107.97,446.16 109.5,445.4 113.32,442.41 C117.13,439.42 124.37,432.82 128.18,430.1 C131.99,427.38 133.52,427.27 136.2,426.09 C138.88,424.91 141.55,423.9 144.23,423.04 C146.91,422.18 149.58,421.57 152.26,420.95 C154.94,420.33 157.61,419.82 160.29,419.34 C162.97,418.86 165.64,418.46 168.32,418.06 C171,417.66 174.34,417.2 176.35,416.93 C178.36,416.66 179.69,416.53 180.36,416.45 L180.36,438.61 C179.69,438.34 178.36,437.62 176.35,437.01 C174.34,436.39 171,435.46 168.32,434.92 C165.64,434.38 162.97,434.07 160.29,433.8 C157.61,433.53 154.94,433.37 152.26,433.31 C149.58,433.25 146.91,433.25 144.23,433.47 C141.55,433.69 138.88,434.01 136.2,434.6 C133.52,435.19 131.99,435.04 128.18,437.01 C124.37,438.98 117.13,443.92 113.32,446.42 C109.5,448.93 107.97,450.17 105.29,452.04 C102.61,453.91 99.94,455.79 97.26,457.66 C94.58,459.53 91.91,461.4 89.23,463.28 C86.55,465.15 83.88,467.17 81.2,468.91 C78.53,470.65 75.86,472.25 73.18,473.72 C70.51,475.19 67.56,476.54 65.15,477.74 C62.74,478.94 60.86,479.88 58.72,480.95 C56.58,482.02 54.44,482.96 52.3,484.16 C50.16,485.37 48.02,486.92 45.88,488.18 C43.74,489.44 40.52,491.12 39.45,491.71 Z" class="rib"/><path d="M39.45,486.57 C40.52,486.09 43.74,484.62 45.88,483.68 C48.02,482.74 50.16,481.86 52.3,480.95 C54.44,480.04 56.58,479.16 58.72,478.22 C60.86,477.28 62.74,476.48 65.15,475.33 C67.56,474.18 70.51,472.78 73.18,471.31 C75.86,469.84 78.53,468.24 81.2,466.5 C83.88,464.76 86.82,462.54 89.23,460.88 C91.64,459.22 92.98,458.41 95.66,456.54 C98.34,454.67 102.35,451.73 105.29,449.64 C108.23,447.55 109.5,446.65 113.32,444.01 C117.13,441.37 124.37,436.12 128.18,433.8 C131.99,431.48 133.52,431.09 136.2,430.1 C138.88,429.11 141.55,428.44 144.23,427.85 C146.91,427.26 149.58,426.86 152.26,426.57 C154.94,426.28 157.61,426.17 160.29,426.09 C162.97,426.01 165.64,426.01 168.32,426.09 C171,426.17 174.34,426.36 176.35,426.57 C178.36,426.78 179.69,427.24 180.36,427.37" class="lr"/><rect x="110.2" y="511.4" width="76.9" height="15.1" class="sbox"/><text x="112" y="517.2" class="st" textLength="68.18" lengthAdjust="spacingAndGlyphs">NC Group:R=0.036  P=0.88</text><text x="112" y="524.1" class="st" textLength="70.58" lengthAdjust="spacingAndGlyphs">PC Group:R=0.68   P=6.1e-7</text><rect x="24.2" y="375.5" width="163.2" height="151.5" class="bd"/><line x1="28.2" y1="527" x2="28.2" y2="528.6" class="tk"/><text x="28.2" y="532.2" class="tl" text-anchor="middle" textLength="2.34" lengthAdjust="spacingAndGlyphs">2</text><line x1="83" y1="527" x2="83" y2="528.6" class="tk"/><text x="83" y="532.2" class="tl" text-anchor="middle" textLength="2.34" lengthAdjust="spacingAndGlyphs">4</text><line x1="137.6" y1="527" x2="137.6" y2="528.6" class="tk"/><text x="137.6" y="532.2" class="tl" text-anchor="middle" textLength="2.34" lengthAdjust="spacingAndGlyphs">6</text><line x1="22.6" y1="422.3" x2="24.2" y2="422.3" class="tk"/><text x="22" y="424.15" class="tl" text-anchor="end" textLength="14.02" lengthAdjust="spacingAndGlyphs">140000</text><line x1="22.6" y1="469.8" x2="24.2" y2="469.8" class="tk"/><text x="22" y="471.65" class="tl" text-anchor="end" textLength="14.02" lengthAdjust="spacingAndGlyphs">120000</text><line x1="22.6" y1="517.2" x2="24.2" y2="517.2" class="tk"/><text x="22" y="519.05" class="tl" text-anchor="end" textLength="14.02" lengthAdjust="spacingAndGlyphs">100000</text><text x="105.8" y="367.8" class="ti" text-anchor="middle" textLength="152.24" lengthAdjust="spacingAndGlyphs">Correlation between Frontal Lobe Volume and NEU Level</text><text x="105.8" y="372.9" class="su" text-anchor="middle" textLength="66.95" lengthAdjust="spacingAndGlyphs">PC Group (n=43) vs. NC Control (n=20)</text><text x="105.8" y="538.8" class="ax" text-anchor="middle" textLength="54.54" lengthAdjust="spacingAndGlyphs">NEU Level(10e9/L)</text><text transform="translate(5.6,451.25) rotate(-90)" class="ax" text-anchor="middle" textLength="80.44" lengthAdjust="spacingAndGlyphs">Frontal Lobe Volume(mm3)</text><text x="6.1" y="382.7" class="lt" textLength="7.50" lengthAdjust="spacingAndGlyphs">g</text><text x="193" y="447" class="lgt" textLength="18.39" lengthAdjust="spacingAndGlyphs">Group</text><rect x="193" y="449.4" width="5.2" height="10.6" fill="#d9d9d9"/><line x1="193.4" y1="452.2" x2="197.8" y2="452.2" class="lg"/><line x1="193.4" y1="457.5" x2="197.8" y2="457.5" class="lr"/><circle cx="195.6" cy="452.2" r="1.4" class="pg"/><circle cx="195.6" cy="457.5" r="1.4" class="pr"/><text x="200" y="453.9" class="lgl" textLength="21.19" lengthAdjust="spacingAndGlyphs">NC group</text><text x="200" y="459.2" class="lgl" textLength="20.91" lengthAdjust="spacingAndGlyphs">PC group</text></g>
<g><line x1="283.52" y1="375.5" x2="283.52" y2="527" class="gm"/><line x1="340.57" y1="375.5" x2="340.57" y2="527" class="gm"/><line x1="397.62" y1="375.5" x2="397.62" y2="527" class="gm"/><line x1="251.3" y1="389.1" x2="421.4" y2="389.1" class="gm"/><line x1="251.3" y1="428.9" x2="421.4" y2="428.9" class="gm"/><line x1="251.3" y1="468.7" x2="421.4" y2="468.7" class="gm"/><line x1="251.3" y1="508.5" x2="421.4" y2="508.5" class="gm"/><line x1="255" y1="375.5" x2="255" y2="527" class="gM"/><line x1="312" y1="375.5" x2="312" y2="527" class="gM"/><line x1="369.1" y1="375.5" x2="369.1" y2="527" class="gM"/><line x1="251.3" y1="409" x2="421.4" y2="409" class="gM"/><line x1="251.3" y1="448.8" x2="421.4" y2="448.8" class="gM"/><line x1="251.3" y1="488.6" x2="421.4" y2="488.6" class="gM"/><circle cx="311.8" cy="381.91" r="1.25" class="pg"/><circle cx="291.45" cy="409.21" r="1.25" class="pg"/><circle cx="261.42" cy="426.34" r="1.25" class="pg"/><circle cx="295.66" cy="438.25" r="1.25" class="pg"/><circle cx="290.95" cy="450.16" r="1.25" class="pg"/><circle cx="290.45" cy="456.12" r="1.25" class="pg"/><circle cx="277.55" cy="456.12" r="1.25" class="pg"/><circle cx="279.04" cy="456.36" r="1.25" class="pg"/><circle cx="283.26" cy="464.31" r="1.25" class="pg"/><circle cx="287.23" cy="462.32" r="1.25" class="pg"/><circle cx="280.53" cy="469.27" r="1.25" class="pg"/><circle cx="258.93" cy="471.26" r="1.25" class="pg"/><circle cx="283.75" cy="478.7" r="1.25" class="pg"/><circle cx="286.48" cy="478.7" r="1.25" class="pg"/><circle cx="283.26" cy="481.18" r="1.25" class="pg"/><circle cx="259.18" cy="484.66" r="1.25" class="pg"/><circle cx="284.5" cy="486.64" r="1.25" class="pg"/><circle cx="286.48" cy="489.12" r="1.25" class="pg"/><circle cx="274.57" cy="493.59" r="1.25" class="pg"/><circle cx="343.31" cy="447.93" r="1.25" class="pg"/><circle cx="315.52" cy="412.19" r="1.25" class="pr"/><circle cx="325.45" cy="419.64" r="1.25" class="pr"/><circle cx="364.41" cy="427.33" r="1.25" class="pr"/><circle cx="312.54" cy="426.34" r="1.25" class="pr"/><circle cx="301.62" cy="436.51" r="1.25" class="pr"/><circle cx="329.66" cy="434.03" r="1.25" class="pr"/><circle cx="322.72" cy="437.75" r="1.25" class="pr"/><circle cx="326.19" cy="441.72" r="1.25" class="pr"/><circle cx="314.77" cy="441.97" r="1.25" class="pr"/><circle cx="359.69" cy="436.51" r="1.25" class="pr"/><circle cx="268.86" cy="443.21" r="1.25" class="pr"/><circle cx="306.83" cy="451.15" r="1.25" class="pr"/><circle cx="342.82" cy="447.93" r="1.25" class="pr"/><circle cx="360.44" cy="449.42" r="1.25" class="pr"/><circle cx="361.68" cy="449.42" r="1.25" class="pr"/><circle cx="281.52" cy="456.36" r="1.25" class="pr"/><circle cx="311.3" cy="458.35" r="1.25" class="pr"/><circle cx="334.63" cy="456.36" r="1.25" class="pr"/><circle cx="338.1" cy="457.11" r="1.25" class="pr"/><circle cx="304.6" cy="461.58" r="1.25" class="pr"/><circle cx="278.54" cy="463.31" r="1.25" class="pr"/><circle cx="333.64" cy="464.55" r="1.25" class="pr"/><circle cx="313.53" cy="467.53" r="1.25" class="pr"/><circle cx="277.8" cy="471.75" r="1.25" class="pr"/><circle cx="287.72" cy="470.76" r="1.25" class="pr"/><circle cx="330.16" cy="472" r="1.25" class="pr"/><circle cx="301.37" cy="476.96" r="1.25" class="pr"/><circle cx="309.31" cy="478.45" r="1.25" class="pr"/><circle cx="312.29" cy="476.22" r="1.25" class="pr"/><circle cx="337.85" cy="478.45" r="1.25" class="pr"/><circle cx="279.28" cy="482.92" r="1.25" class="pr"/><circle cx="274.32" cy="486.15" r="1.25" class="pr"/><circle cx="276.8" cy="490.12" r="1.25" class="pr"/><circle cx="283.26" cy="489.37" r="1.25" class="pr"/><circle cx="284.99" cy="490.61" r="1.25" class="pr"/><circle cx="304.6" cy="490.12" r="1.25" class="pr"/><circle cx="312.04" cy="496.32" r="1.25" class="pr"/><circle cx="321.72" cy="509.47" r="1.25" class="pr"/><circle cx="305.09" cy="512.45" r="1.25" class="pr"/><circle cx="276.55" cy="520.15" r="1.25" class="pr"/><circle cx="413.3" cy="446.93" r="1.25" class="pr"/><circle cx="283.5" cy="469.27" r="1.25" class="pr"/><path d="M258.93,454.38 C259.92,456.24 262.86,462.66 264.89,465.55 C266.92,468.44 269.02,470.8 271.09,471.75 C273.16,472.7 275.02,472.58 277.3,471.26 C279.58,469.94 282.26,468.69 284.74,463.81 C287.22,458.93 289.71,449.75 292.19,441.97 C294.67,434.19 297.16,423.97 299.64,417.15 C302.12,410.32 304.6,404.53 307.08,401.02 C309.56,397.5 312.25,397.01 314.53,396.06 C316.8,395.11 318.66,395.19 320.73,395.31 C322.8,395.43 324.66,395.44 326.93,396.8 C329.2,398.17 332.31,400.52 334.38,403.5 C336.45,406.48 337.85,410.24 339.34,414.67 C340.83,419.1 342.65,427.5 343.31,430.06 L343.31,459.84 C342.65,457.48 340.83,451.15 339.34,445.69 C337.85,440.23 336.45,432.04 334.38,427.08 C332.31,422.12 329.2,418.31 326.93,415.91 C324.66,413.51 322.8,412.98 320.73,412.69 C318.66,412.4 316.8,412.61 314.53,414.18 C312.25,415.75 309.56,418.52 307.08,422.12 C304.6,425.72 302.12,429.98 299.64,435.77 C297.16,441.56 294.67,450.86 292.19,456.86 C289.71,462.86 287.22,468.23 284.74,471.75 C282.26,475.27 279.58,476.72 277.3,477.96 C275.02,479.2 273.16,479.41 271.09,479.2 C269.02,478.99 266.92,478.17 264.89,476.72 C262.86,475.27 259.92,471.55 258.93,470.51 Z" class="rib"/><path d="M258.93,462.57 C259.92,463.89 262.86,468.48 264.89,470.51 C266.92,472.54 269.02,474.11 271.09,474.73 C273.16,475.35 275.02,475.35 277.3,474.23 C279.58,473.11 282.26,472.16 284.74,468.03 C287.22,463.89 289.71,456.25 292.19,449.42 C294.67,442.6 297.16,433.28 299.64,427.08 C302.12,420.88 304.6,415.91 307.08,412.19 C309.56,408.47 312.25,406.15 314.53,404.74 C316.8,403.33 318.66,403.54 320.73,403.75 C322.8,403.96 324.66,404.17 326.93,405.99 C329.2,407.81 332.31,410.54 334.38,414.67 C336.45,418.81 337.85,425.38 339.34,430.8 C340.83,436.22 342.65,444.45 343.31,447.18" class="lg"/><path d="M266.38,479.2 C268.2,478.7 273.41,477.46 277.3,476.22 C281.19,474.98 285.57,473.4 289.71,471.75 C293.85,470.1 297.98,468.28 302.12,466.29 C306.26,464.31 310.39,462.03 314.53,459.84 C318.66,457.65 322.8,455.5 326.93,453.14 C331.06,450.78 335.62,447.55 339.34,445.69 C343.06,443.83 345.55,443.21 349.27,441.97 C352.99,440.73 357.54,439.28 361.68,438.25 C365.82,437.22 369.95,436.47 374.09,435.77 C378.23,435.07 382.36,434.65 386.5,434.03 C390.64,433.41 394.44,432.7 398.91,432.04 C403.38,431.38 410.9,430.39 413.3,430.06 L413.3,459.84 C410.9,459.14 403.38,456.94 398.91,455.62 C394.44,454.3 390.64,452.85 386.5,451.9 C382.36,450.95 378.23,450.24 374.09,449.91 C369.95,449.58 365.82,449.58 361.68,449.91 C357.54,450.24 352.99,450.95 349.27,451.9 C345.55,452.85 343.06,454.17 339.34,455.62 C335.62,457.07 331.06,458.8 326.93,460.58 C322.8,462.36 318.66,464.43 314.53,466.29 C310.39,468.15 306.26,469.93 302.12,471.75 C297.98,473.57 293.85,475.35 289.71,477.21 C285.57,479.07 281.19,481.02 277.3,482.92 C273.41,484.82 268.2,487.68 266.38,488.63 Z" class="rib"/><path d="M266.38,483.17 C268.2,482.51 273.41,480.69 277.3,479.2 C281.19,477.71 285.57,475.97 289.71,474.23 C293.85,472.49 297.98,470.63 302.12,468.77 C306.26,466.91 310.39,465.06 314.53,463.07 C318.66,461.08 322.8,458.93 326.93,456.86 C331.06,454.79 335.62,452.32 339.34,450.66 C343.06,449 345.55,448.05 349.27,446.93 C352.99,445.81 357.54,444.7 361.68,443.96 C365.82,443.22 369.95,442.8 374.09,442.47 C378.23,442.14 382.36,441.93 386.5,441.97 C390.64,442.01 394.44,442.22 398.91,442.72 C403.38,443.22 410.9,444.58 413.3,444.95" class="lr"/><rect x="344.5" y="511.5" width="76.6" height="15.3" class="sbox"/><text x="346.1" y="517.4" class="st" textLength="69.75" lengthAdjust="spacingAndGlyphs">NC Group:R=0.39  P=0.085</text><text x="346.1" y="524.2" class="st" textLength="70.72" lengthAdjust="spacingAndGlyphs">PC Group:R=0.45  P=2.6e-3</text><rect x="251.3" y="375.5" width="170.1" height="151.5" class="bd"/><line x1="255" y1="527" x2="255" y2="528.6" class="tk"/><text x="255" y="532.2" class="tl" text-anchor="middle" textLength="2.39" lengthAdjust="spacingAndGlyphs">2</text><line x1="312" y1="527" x2="312" y2="528.6" class="tk"/><text x="312" y="532.2" class="tl" text-anchor="middle" textLength="2.39" lengthAdjust="spacingAndGlyphs">4</text><line x1="369.1" y1="527" x2="369.1" y2="528.6" class="tk"/><text x="369.1" y="532.2" class="tl" text-anchor="middle" textLength="2.39" lengthAdjust="spacingAndGlyphs">6</text><line x1="249.7" y1="409" x2="251.3" y2="409" class="tk"/><text x="249.1" y="410.85" class="tl" text-anchor="end" textLength="11.95" lengthAdjust="spacingAndGlyphs">18000</text><line x1="249.7" y1="448.8" x2="251.3" y2="448.8" class="tk"/><text x="249.1" y="450.65" class="tl" text-anchor="end" textLength="11.95" lengthAdjust="spacingAndGlyphs">15000</text><line x1="249.7" y1="488.6" x2="251.3" y2="488.6" class="tk"/><text x="249.1" y="490.45" class="tl" text-anchor="end" textLength="11.95" lengthAdjust="spacingAndGlyphs">12000</text><text x="336.35" y="367.8" class="ti" text-anchor="middle" textLength="157.04" lengthAdjust="spacingAndGlyphs">Correlation between Parietal Lobe Volume and NEU Level</text><text x="336.35" y="372.9" class="su" text-anchor="middle" textLength="68.49" lengthAdjust="spacingAndGlyphs">PC Group (n=43) vs. NC Control (n=20)</text><text x="336.35" y="538.8" class="ax" text-anchor="middle" textLength="55.79" lengthAdjust="spacingAndGlyphs">NEU Level(10e9/L)</text><text transform="translate(234.2,451.25) rotate(-90)" class="ax" text-anchor="middle" textLength="83.73" lengthAdjust="spacingAndGlyphs">Parietal Lobe Volume(mm3)</text><text x="235.2" y="380.5" class="lt" textLength="8.34" lengthAdjust="spacingAndGlyphs">h</text><text x="427" y="446.7" class="lgt" textLength="18.81" lengthAdjust="spacingAndGlyphs">Group</text><rect x="427" y="449.1" width="5.2" height="10.6" fill="#d9d9d9"/><line x1="427.4" y1="451.9" x2="431.8" y2="451.9" class="lg"/><line x1="427.4" y1="457.2" x2="431.8" y2="457.2" class="lr"/><circle cx="429.6" cy="451.9" r="1.4" class="pg"/><circle cx="429.6" cy="457.2" r="1.4" class="pr"/><text x="434" y="453.6" class="lgl" textLength="21.67" lengthAdjust="spacingAndGlyphs">NC group</text><text x="434" y="458.9" class="lgl" textLength="21.39" lengthAdjust="spacingAndGlyphs">PC group</text></g>
<g><line x1="516.45" y1="376.1" x2="516.45" y2="527.5" class="gm"/><line x1="571.55" y1="376.1" x2="571.55" y2="527.5" class="gm"/><line x1="626.65" y1="376.1" x2="626.65" y2="527.5" class="gm"/><line x1="483.9" y1="381.04" x2="649.4" y2="381.04" class="gm"/><line x1="483.9" y1="412.16" x2="649.4" y2="412.16" class="gm"/><line x1="483.9" y1="443.29" x2="649.4" y2="443.29" class="gm"/><line x1="483.9" y1="474.41" x2="649.4" y2="474.41" class="gm"/><line x1="483.9" y1="505.54" x2="649.4" y2="505.54" class="gm"/><line x1="488.9" y1="376.1" x2="488.9" y2="527.5" class="gM"/><line x1="544" y1="376.1" x2="544" y2="527.5" class="gM"/><line x1="599.1" y1="376.1" x2="599.1" y2="527.5" class="gM"/><line x1="483.9" y1="396.6" x2="649.4" y2="396.6" class="gM"/><line x1="483.9" y1="427.7" x2="649.4" y2="427.7" class="gM"/><line x1="483.9" y1="458.7" x2="649.4" y2="458.7" class="gM"/><line x1="483.9" y1="489.9" x2="649.4" y2="489.9" class="gM"/><line x1="483.9" y1="521.1" x2="649.4" y2="521.1" class="gM"/><circle cx="543.04" cy="398.54" r="1.25" class="pg"/><circle cx="527.15" cy="406.48" r="1.25" class="pg"/><circle cx="491.17" cy="431.3" r="1.25" class="pg"/><circle cx="523.18" cy="425.34" r="1.25" class="pg"/><circle cx="493.65" cy="447.68" r="1.25" class="pg"/><circle cx="506.8" cy="444.45" r="1.25" class="pg"/><circle cx="509.78" cy="440.48" r="1.25" class="pg"/><circle cx="516.48" cy="442.47" r="1.25" class="pg"/><circle cx="515.49" cy="445.2" r="1.25" class="pg"/><circle cx="512.26" cy="452.39" r="1.25" class="pg"/><circle cx="515.24" cy="451.4" r="1.25" class="pg"/><circle cx="522.19" cy="456.36" r="1.25" class="pg"/><circle cx="511.02" cy="461.33" r="1.25" class="pg"/><circle cx="514.74" cy="461.82" r="1.25" class="pg"/><circle cx="523.18" cy="460.83" r="1.25" class="pg"/><circle cx="573.81" cy="447.43" r="1.25" class="pg"/><circle cx="491.42" cy="482.92" r="1.25" class="pg"/><circle cx="518.47" cy="496.07" r="1.25" class="pg"/><circle cx="518.96" cy="500.04" r="1.25" class="pg"/><circle cx="518.47" cy="520.89" r="1.25" class="pg"/><circle cx="642.31" cy="398.04" r="1.25" class="pr"/><circle cx="594.41" cy="412.19" r="1.25" class="pr"/><circle cx="545.77" cy="414.42" r="1.25" class="pr"/><circle cx="592.18" cy="427.58" r="1.25" class="pr"/><circle cx="544.53" cy="429.56" r="1.25" class="pr"/><circle cx="543.53" cy="430.31" r="1.25" class="pr"/><circle cx="556.19" cy="427.58" r="1.25" class="pr"/><circle cx="536.09" cy="437.5" r="1.25" class="pr"/><circle cx="535.59" cy="439.99" r="1.25" class="pr"/><circle cx="589.45" cy="438.5" r="1.25" class="pr"/><circle cx="568.35" cy="443.96" r="1.25" class="pr"/><circle cx="511.52" cy="445.2" r="1.25" class="pr"/><circle cx="508.79" cy="451.15" r="1.25" class="pr"/><circle cx="546.51" cy="450.66" r="1.25" class="pr"/><circle cx="532.86" cy="453.39" r="1.25" class="pr"/><circle cx="538.07" cy="456.12" r="1.25" class="pr"/><circle cx="590.44" cy="451.4" r="1.25" class="pr"/><circle cx="553.96" cy="457.36" r="1.25" class="pr"/><circle cx="564.63" cy="454.88" r="1.25" class="pr"/><circle cx="568.6" cy="456.36" r="1.25" class="pr"/><circle cx="556.93" cy="459.34" r="1.25" class="pr"/><circle cx="560.66" cy="460.09" r="1.25" class="pr"/><circle cx="519.71" cy="458.6" r="1.25" class="pr"/><circle cx="536.09" cy="470.01" r="1.25" class="pr"/><circle cx="517.23" cy="471.5" r="1.25" class="pr"/><circle cx="501.09" cy="472.25" r="1.25" class="pr"/><circle cx="572.82" cy="470.26" r="1.25" class="pr"/><circle cx="565.62" cy="473.24" r="1.25" class="pr"/><circle cx="510.03" cy="477.21" r="1.25" class="pr"/><circle cx="511.02" cy="477.71" r="1.25" class="pr"/><circle cx="532.86" cy="479.94" r="1.25" class="pr"/><circle cx="540.31" cy="480.44" r="1.25" class="pr"/><circle cx="543.78" cy="479.2" r="1.25" class="pr"/><circle cx="542.29" cy="482.18" r="1.25" class="pr"/><circle cx="552.72" cy="480.44" r="1.25" class="pr"/><circle cx="536.58" cy="483.91" r="1.25" class="pr"/><circle cx="543.78" cy="485.65" r="1.25" class="pr"/><circle cx="513.75" cy="484.66" r="1.25" class="pr"/><circle cx="499.11" cy="485.9" r="1.25" class="pr"/><circle cx="515.49" cy="489.12" r="1.25" class="pr"/><circle cx="506.31" cy="492.6" r="1.25" class="pr"/><circle cx="508.79" cy="492.6" r="1.25" class="pr"/><circle cx="512.26" cy="462.32" r="1.25" class="pr"/><path d="M491.17,437.01 C492.2,438.87 495.1,445.16 497.37,448.18 C499.64,451.2 502.55,453.59 504.82,455.12 C507.09,456.65 508.95,457.28 511.02,457.36 C513.09,457.44 514.96,457.36 517.23,455.62 C519.5,453.88 522.19,450.86 524.67,446.93 C527.15,443 529.64,437.62 532.12,432.04 C534.6,426.46 537.08,417.77 539.56,413.43 C542.04,409.09 544.94,407.52 547.01,405.99 C549.08,404.46 550.32,404.25 551.97,404.25 C553.62,404.25 555.27,404.96 556.93,405.99 C558.58,407.02 560.25,408.75 561.9,410.45 C563.55,412.14 564.88,413.72 566.86,416.16 C568.85,418.6 572.65,423.6 573.81,425.09 L573.81,464.31 C572.65,461 568.85,449.21 566.86,444.45 C564.88,439.69 563.55,437.84 561.9,435.77 C560.25,433.7 558.58,432.95 556.93,432.04 C555.27,431.13 553.62,430.39 551.97,430.31 C550.32,430.23 549.08,430.02 547.01,431.55 C544.94,433.08 542.04,435.69 539.56,439.49 C537.08,443.3 534.6,450.04 532.12,454.38 C529.64,458.72 527.15,462.86 524.67,465.55 C522.19,468.24 519.5,469.48 517.23,470.51 C514.96,471.54 513.09,471.75 511.02,471.75 C508.95,471.75 507.09,471.54 504.82,470.51 C502.55,469.48 499.64,467.33 497.37,465.55 C495.1,463.77 492.2,460.79 491.17,459.84 Z" class="rib"/><path d="M491.17,448.92 C492.2,450.24 495.1,454.5 497.37,456.86 C499.64,459.22 502.55,461.75 504.82,463.07 C507.09,464.39 508.95,464.76 511.02,464.8 C513.09,464.84 514.96,464.72 517.23,463.31 C519.5,461.9 522.19,459.92 524.67,456.36 C527.15,452.8 529.64,446.85 532.12,441.97 C534.6,437.09 537.08,430.93 539.56,427.08 C542.04,423.23 544.94,420.54 547.01,418.89 C549.08,417.24 550.32,417.27 551.97,417.15 C553.62,417.03 555.27,417.32 556.93,418.15 C558.58,418.98 560.25,420.22 561.9,422.12 C563.55,424.02 564.88,425.92 566.86,429.56 C568.85,433.2 572.65,441.56 573.81,443.96" class="lg"/><path d="M499.36,475.97 C501.1,475.35 505.97,473.74 509.78,472.25 C513.59,470.76 518.05,468.74 522.19,467.04 C526.33,465.34 530.46,463.73 534.6,462.07 C538.74,460.41 542.87,458.76 547.01,457.11 C551.15,455.46 555.28,453.8 559.42,452.15 C563.55,450.5 567.69,449.08 571.82,447.18 C575.96,445.28 580.09,443.67 584.23,440.73 C588.37,437.79 592.5,433.28 596.64,429.56 C600.78,425.84 604.91,422.53 609.05,418.39 C613.19,414.25 617.32,409.29 621.46,404.74 C625.6,400.19 630.39,394.6 633.87,391.09 C637.35,387.57 640.9,384.89 642.31,383.65 L642.31,407.72 C640.9,408.67 637.35,410.82 633.87,413.43 C630.39,416.04 625.6,420.26 621.46,423.36 C617.32,426.46 613.19,429.35 609.05,432.04 C604.91,434.73 600.78,437.17 596.64,439.49 C592.5,441.81 588.37,443.91 584.23,445.94 C580.09,447.97 575.96,449.87 571.82,451.65 C567.69,453.43 563.55,455 559.42,456.61 C555.28,458.22 551.15,459.67 547.01,461.33 C542.87,462.99 538.74,464.8 534.6,466.54 C530.46,468.28 526.33,469.81 522.19,471.75 C518.05,473.69 513.59,476.25 509.78,478.2 C505.97,480.14 501.1,482.55 499.36,483.42 Z" class="rib"/><path d="M499.36,479.45 C501.1,478.7 505.97,476.68 509.78,474.98 C513.59,473.28 518.05,471.05 522.19,469.27 C526.33,467.49 530.46,465.97 534.6,464.31 C538.74,462.65 542.87,461 547.01,459.34 C551.15,457.68 555.28,456.03 559.42,454.38 C563.55,452.73 567.69,451.28 571.82,449.42 C575.96,447.56 580.09,445.69 584.23,443.21 C588.37,440.73 592.5,437.42 596.64,434.53 C600.78,431.63 604.91,429.15 609.05,425.84 C613.19,422.53 617.32,418.6 621.46,414.67 C625.6,410.74 630.39,405.57 633.87,402.26 C637.35,398.95 640.9,396.06 642.31,394.82" class="lr"/><rect x="572.2" y="511.2" width="76.9" height="15.5" class="sbox"/><text x="573.7" y="516.8" class="st" textLength="58.08" lengthAdjust="spacingAndGlyphs">NC Group:R=0.2 P=0.4</text><text x="573.7" y="523.6" class="st" textLength="69.13" lengthAdjust="spacingAndGlyphs">PC Group:R=0.62  P=8.9e-6</text><rect x="483.9" y="376.1" width="165.5" height="151.4" class="bd"/><line x1="488.9" y1="527.5" x2="488.9" y2="529.1" class="tk"/><text x="488.9" y="532.7" class="tl" text-anchor="middle" textLength="2.34" lengthAdjust="spacingAndGlyphs">2</text><line x1="544" y1="527.5" x2="544" y2="529.1" class="tk"/><text x="544" y="532.7" class="tl" text-anchor="middle" textLength="2.34" lengthAdjust="spacingAndGlyphs">4</text><line x1="599.1" y1="527.5" x2="599.1" y2="529.1" class="tk"/><text x="599.1" y="532.7" class="tl" text-anchor="middle" textLength="2.34" lengthAdjust="spacingAndGlyphs">6</text><line x1="482.3" y1="396.6" x2="483.9" y2="396.6" class="tk"/><text x="481.7" y="398.45" class="tl" text-anchor="end" textLength="11.68" lengthAdjust="spacingAndGlyphs">50000</text><line x1="482.3" y1="427.7" x2="483.9" y2="427.7" class="tk"/><text x="481.7" y="429.55" class="tl" text-anchor="end" textLength="11.68" lengthAdjust="spacingAndGlyphs">45000</text><line x1="482.3" y1="458.7" x2="483.9" y2="458.7" class="tk"/><text x="481.7" y="460.55" class="tl" text-anchor="end" textLength="11.68" lengthAdjust="spacingAndGlyphs">40000</text><line x1="482.3" y1="489.9" x2="483.9" y2="489.9" class="tk"/><text x="481.7" y="491.75" class="tl" text-anchor="end" textLength="11.68" lengthAdjust="spacingAndGlyphs">35000</text><line x1="482.3" y1="521.1" x2="483.9" y2="521.1" class="tk"/><text x="481.7" y="522.95" class="tl" text-anchor="end" textLength="11.68" lengthAdjust="spacingAndGlyphs">30000</text><text x="566.65" y="367.8" class="ti" text-anchor="middle" textLength="158.09" lengthAdjust="spacingAndGlyphs">Correlation between Temporal Lobe Volume and NEU Level</text><text x="566.65" y="372.9" class="su" text-anchor="middle" textLength="66.95" lengthAdjust="spacingAndGlyphs">PC Group (n=43) vs. NC Control (n=20)</text><text x="566.65" y="538.8" class="ax" text-anchor="middle" textLength="54.54" lengthAdjust="spacingAndGlyphs">NEU Level(10e9/L)</text><text transform="translate(467.2,451.8) rotate(-90)" class="ax" text-anchor="middle" textLength="86.93" lengthAdjust="spacingAndGlyphs">Temporal Lobe Volume(mm3)</text><text x="473.7" y="380.2" class="lt" textLength="4.17" lengthAdjust="spacingAndGlyphs">i</text><text x="655" y="447.6" class="lgt" textLength="18.39" lengthAdjust="spacingAndGlyphs">Group</text><rect x="655" y="450" width="5.2" height="10.6" fill="#d9d9d9"/><line x1="655.4" y1="452.8" x2="659.8" y2="452.8" class="lg"/><line x1="655.4" y1="458.1" x2="659.8" y2="458.1" class="lr"/><circle cx="657.6" cy="452.8" r="1.4" class="pg"/><circle cx="657.6" cy="458.1" r="1.4" class="pr"/><text x="662" y="454.5" class="lgl" textLength="21.19" lengthAdjust="spacingAndGlyphs">NC group</text><text x="662" y="459.8" class="lgl" textLength="20.91" lengthAdjust="spacingAndGlyphs">PC group</text></g>
<g><line x1="55.3" y1="557.2" x2="55.3" y2="709.1" class="gm"/><line x1="109.5" y1="557.2" x2="109.5" y2="709.1" class="gm"/><line x1="163.7" y1="557.2" x2="163.7" y2="709.1" class="gm"/><line x1="23.4" y1="589.47" x2="188.6" y2="589.47" class="gm"/><line x1="23.4" y1="631.2" x2="188.6" y2="631.2" class="gm"/><line x1="23.4" y1="672.93" x2="188.6" y2="672.93" class="gm"/><line x1="28.2" y1="557.2" x2="28.2" y2="709.1" class="gM"/><line x1="82.5" y1="557.2" x2="82.5" y2="709.1" class="gM"/><line x1="136.6" y1="557.2" x2="136.6" y2="709.1" class="gM"/><line x1="23.4" y1="568.6" x2="188.6" y2="568.6" class="gM"/><line x1="23.4" y1="610.2" x2="188.6" y2="610.2" class="gM"/><line x1="23.4" y1="652" x2="188.6" y2="652" class="gM"/><line x1="23.4" y1="693.8" x2="188.6" y2="693.8" class="gM"/><circle cx="62.69" cy="569.36" r="1.25" class="pg"/><circle cx="33.65" cy="578.04" r="1.25" class="pg"/><circle cx="66.66" cy="583.01" r="1.25" class="pg"/><circle cx="30.67" cy="591.45" r="1.25" class="pg"/><circle cx="49.28" cy="598.89" r="1.25" class="pg"/><circle cx="62.19" cy="616.01" r="1.25" class="pg"/><circle cx="31.17" cy="624.2" r="1.25" class="pg"/><circle cx="51.77" cy="628.92" r="1.25" class="pg"/><circle cx="82.04" cy="612.54" r="1.25" class="pg"/><circle cx="57.72" cy="640.58" r="1.25" class="pg"/><circle cx="54.74" cy="642.57" r="1.25" class="pg"/><circle cx="61.45" cy="641.33" r="1.25" class="pg"/><circle cx="50.28" cy="644.8" r="1.25" class="pg"/><circle cx="54.74" cy="647.53" r="1.25" class="pg"/><circle cx="55.99" cy="660.93" r="1.25" class="pg"/><circle cx="46.31" cy="661.43" r="1.25" class="pg"/><circle cx="58.47" cy="671.36" r="1.25" class="pg"/><circle cx="54.99" cy="672.1" r="1.25" class="pg"/><circle cx="58.47" cy="680.04" r="1.25" class="pg"/><circle cx="112.57" cy="672.1" r="1.25" class="pg"/><circle cx="133.66" cy="563.9" r="1.25" class="pr"/><circle cx="75.59" cy="586.48" r="1.25" class="pr"/><circle cx="107.85" cy="589.71" r="1.25" class="pr"/><circle cx="129.45" cy="595.42" r="1.25" class="pr"/><circle cx="128.7" cy="605.59" r="1.25" class="pr"/><circle cx="100.41" cy="609.81" r="1.25" class="pr"/><circle cx="48.04" cy="614.03" r="1.25" class="pr"/><circle cx="50.28" cy="617.26" r="1.25" class="pr"/><circle cx="83.53" cy="617.01" r="1.25" class="pr"/><circle cx="85.27" cy="616.51" r="1.25" class="pr"/><circle cx="79.81" cy="621.97" r="1.25" class="pr"/><circle cx="96.44" cy="619.24" r="1.25" class="pr"/><circle cx="99.66" cy="620.23" r="1.25" class="pr"/><circle cx="85.77" cy="624.45" r="1.25" class="pr"/><circle cx="105.12" cy="623.96" r="1.25" class="pr"/><circle cx="72.12" cy="625.94" r="1.25" class="pr"/><circle cx="38.61" cy="633.14" r="1.25" class="pr"/><circle cx="82.79" cy="632.39" r="1.25" class="pr"/><circle cx="131.18" cy="631.9" r="1.25" class="pr"/><circle cx="72.61" cy="635.12" r="1.25" class="pr"/><circle cx="76.09" cy="635.37" r="1.25" class="pr"/><circle cx="108.1" cy="634.63" r="1.25" class="pr"/><circle cx="49.28" cy="637.11" r="1.25" class="pr"/><circle cx="53.01" cy="636.12" r="1.25" class="pr"/><circle cx="95.69" cy="639.09" r="1.25" class="pr"/><circle cx="103.88" cy="640.09" r="1.25" class="pr"/><circle cx="82.54" cy="644.55" r="1.25" class="pr"/><circle cx="40.85" cy="651.01" r="1.25" class="pr"/><circle cx="75.84" cy="651.01" r="1.25" class="pr"/><circle cx="54.74" cy="652.5" r="1.25" class="pr"/><circle cx="51.02" cy="653.74" r="1.25" class="pr"/><circle cx="46.06" cy="656.22" r="1.25" class="pr"/><circle cx="75.09" cy="659.45" r="1.25" class="pr"/><circle cx="83.53" cy="663.42" r="1.25" class="pr"/><circle cx="92.96" cy="665.4" r="1.25" class="pr"/><circle cx="56.73" cy="669.62" r="1.25" class="pr"/><circle cx="58.96" cy="670.61" r="1.25" class="pr"/><circle cx="91.97" cy="674.58" r="1.25" class="pr"/><circle cx="112.07" cy="674.83" r="1.25" class="pr"/><circle cx="77.33" cy="686.74" r="1.25" class="pr"/><circle cx="48.04" cy="702.38" r="1.25" class="pr"/><circle cx="181.31" cy="601.87" r="1.25" class="pr"/><circle cx="57.97" cy="641.82" r="1.25" class="pr"/><path d="M30.67,589.71 C31.37,592.4 33.36,600.88 34.89,605.84 C36.42,610.8 38.2,615.64 39.85,619.49 C41.51,623.34 42.96,626.44 44.82,628.92 C46.68,631.4 48.95,633.47 51.02,634.38 C53.09,635.29 55.16,635.29 57.23,634.38 C59.3,633.47 61.36,631.9 63.43,628.92 C65.5,625.94 67.57,620.15 69.64,616.51 C71.71,612.87 73.77,609.4 75.84,607.08 C77.91,604.76 80.18,603.23 82.04,602.61 C83.9,601.99 85.36,602.41 87.01,603.36 C88.67,604.31 90.32,606.05 91.97,608.32 C93.62,610.6 95.28,613.49 96.93,617.01 C98.59,620.53 100.25,625.28 101.9,629.42 C103.56,633.55 105.08,638.1 106.86,641.82 C108.64,645.54 111.62,650.1 112.57,651.75 L112.57,692.7 C111.62,689.6 108.64,680.09 106.86,674.09 C105.08,668.09 103.56,661.89 101.9,656.72 C100.25,651.55 98.59,646.79 96.93,643.07 C95.28,639.35 93.62,636.65 91.97,634.38 C90.32,632.11 88.67,630.45 87.01,629.42 C85.36,628.39 83.9,628.18 82.04,628.18 C80.18,628.18 77.91,628.18 75.84,629.42 C73.77,630.66 71.71,633.47 69.64,635.62 C67.57,637.77 65.5,640.79 63.43,642.32 C61.36,643.85 59.3,644.47 57.23,644.8 C55.16,645.13 53.09,645.01 51.02,644.31 C48.95,643.61 46.68,642.03 44.82,640.58 C42.96,639.13 41.51,638.51 39.85,635.62 C38.2,632.73 36.42,627.76 34.89,623.21 C33.36,618.66 31.37,610.8 30.67,608.32 Z" class="rib"/><path d="M30.67,599.14 C31.37,601.7 33.36,609.9 34.89,614.53 C36.42,619.16 38.2,623.62 39.85,626.93 C41.51,630.24 42.96,632.39 44.82,634.38 C46.68,636.37 48.95,638.02 51.02,638.85 C53.09,639.68 55.16,639.88 57.23,639.34 C59.3,638.8 61.36,637.89 63.43,635.62 C65.5,633.35 67.57,628.59 69.64,625.69 C71.71,622.8 73.77,619.9 75.84,618.25 C77.91,616.6 80.18,616.06 82.04,615.77 C83.9,615.48 85.36,615.68 87.01,616.51 C88.67,617.34 90.32,618.58 91.97,620.73 C93.62,622.88 95.28,625.7 96.93,629.42 C98.59,633.14 100.25,638.52 101.9,643.07 C103.56,647.62 105.08,651.88 106.86,656.72 C108.64,661.56 111.62,669.54 112.57,672.1" class="lg"/><path d="M39.11,640.58 C40.89,641 45.93,642.78 49.78,643.07 C53.63,643.36 58.05,642.94 62.19,642.32 C66.33,641.7 70.46,640.66 74.6,639.34 C78.74,638.02 82.87,636.53 87.01,634.38 C91.15,632.23 95.28,629.34 99.42,626.44 C103.56,623.55 107.68,620.03 111.82,617.01 C115.95,613.99 120.09,611.01 124.23,608.32 C128.37,605.63 132.5,603.15 136.64,600.88 C140.78,598.61 144.91,596.62 149.05,594.67 C153.19,592.72 157.32,591.28 161.46,589.21 C165.6,587.14 170.56,584.04 173.87,582.26 C177.18,580.48 180.07,579.16 181.31,578.54 L181.31,609.56 C180.07,609.35 177.18,608.53 173.87,608.32 C170.56,608.11 165.6,607.99 161.46,608.32 C157.32,608.65 153.19,609.36 149.05,610.31 C144.91,611.26 140.78,612.29 136.64,614.03 C132.5,615.77 128.37,618.16 124.23,620.73 C120.09,623.3 115.95,626.73 111.82,629.42 C107.68,632.11 103.56,634.59 99.42,636.86 C95.28,639.13 91.15,641.42 87.01,643.07 C82.87,644.73 78.74,645.76 74.6,646.79 C70.46,647.82 66.33,648.44 62.19,649.27 C58.05,650.1 53.63,650.84 49.78,651.75 C45.93,652.66 40.89,654.23 39.11,654.73 Z" class="rib"/><path d="M39.11,647.53 C40.89,647.49 45.93,647.61 49.78,647.28 C53.63,646.95 58.05,646.25 62.19,645.55 C66.33,644.85 70.46,644.19 74.6,643.07 C78.74,641.95 82.87,640.71 87.01,638.85 C91.15,636.99 95.28,634.51 99.42,631.9 C103.56,629.29 107.68,626.11 111.82,623.21 C115.95,620.32 120.09,617.13 124.23,614.53 C128.37,611.92 132.5,609.57 136.64,607.58 C140.78,605.59 144.91,604.06 149.05,602.61 C153.19,601.16 157.32,600.01 161.46,598.89 C165.6,597.77 170.56,596.61 173.87,595.91 C177.18,595.21 180.07,594.88 181.31,594.67" class="lr"/><rect x="111.5" y="691.8" width="76.8" height="15.5" class="sbox"/><text x="113.1" y="697.7" class="st" textLength="66.54" lengthAdjust="spacingAndGlyphs">NC Group:R=-0.28  P=0.24</text><text x="113.1" y="704.5" class="st" textLength="68.44" lengthAdjust="spacingAndGlyphs">PC Group:R=0.45  P=2.3e-3</text><rect x="23.4" y="557.2" width="165.2" height="151.9" class="bd"/><line x1="28.2" y1="709.1" x2="28.2" y2="710.7" class="tk"/><text x="28.2" y="714.3" class="tl" text-anchor="middle" textLength="2.31" lengthAdjust="spacingAndGlyphs">2</text><line x1="82.5" y1="709.1" x2="82.5" y2="710.7" class="tk"/><text x="82.5" y="714.3" class="tl" text-anchor="middle" textLength="2.31" lengthAdjust="spacingAndGlyphs">4</text><line x1="136.6" y1="709.1" x2="136.6" y2="710.7" class="tk"/><text x="136.6" y="714.3" class="tl" text-anchor="middle" textLength="2.31" lengthAdjust="spacingAndGlyphs">6</text><line x1="21.8" y1="568.6" x2="23.4" y2="568.6" class="tk"/><text x="21.2" y="570.45" class="tl" text-anchor="end" textLength="9.25" lengthAdjust="spacingAndGlyphs">6000</text><line x1="21.8" y1="610.2" x2="23.4" y2="610.2" class="tk"/><text x="21.2" y="612.05" class="tl" text-anchor="end" textLength="9.25" lengthAdjust="spacingAndGlyphs">5000</text><line x1="21.8" y1="652" x2="23.4" y2="652" class="tk"/><text x="21.2" y="653.85" class="tl" text-anchor="end" textLength="9.25" lengthAdjust="spacingAndGlyphs">4000</text><line x1="21.8" y1="693.8" x2="23.4" y2="693.8" class="tk"/><text x="21.2" y="695.65" class="tl" text-anchor="end" textLength="9.25" lengthAdjust="spacingAndGlyphs">3000</text><text x="106" y="549.6" class="ti" text-anchor="middle" textLength="155.37" lengthAdjust="spacingAndGlyphs">Correlation between Occipital Lobe Volume and NEU Level</text><text x="106" y="554.5" class="su" text-anchor="middle" textLength="66.28" lengthAdjust="spacingAndGlyphs">PC Group (n=43) vs. NC Control (n=20)</text><text x="106" y="720.1" class="ax" text-anchor="middle" textLength="53.99" lengthAdjust="spacingAndGlyphs">NEU Level(10e9/L)</text><text transform="translate(10.6,633.15) rotate(-90)" class="ax" text-anchor="middle" textLength="84.81" lengthAdjust="spacingAndGlyphs">Occipital Lobe Volume(mm3)</text><text x="5.6" y="559.3" class="lt" textLength="5.00" lengthAdjust="spacingAndGlyphs">j</text><text x="193.8" y="628.9" class="lgt" textLength="18.20" lengthAdjust="spacingAndGlyphs">Group</text><rect x="193.8" y="631.3" width="5.2" height="10.6" fill="#d9d9d9"/><line x1="194.2" y1="634.1" x2="198.6" y2="634.1" class="lg"/><line x1="194.2" y1="639.4" x2="198.6" y2="639.4" class="lr"/><circle cx="196.4" cy="634.1" r="1.4" class="pg"/><circle cx="196.4" cy="639.4" r="1.4" class="pr"/><text x="200.8" y="635.8" class="lgl" textLength="20.97" lengthAdjust="spacingAndGlyphs">NC group</text><text x="200.8" y="641.1" class="lgl" textLength="20.70" lengthAdjust="spacingAndGlyphs">PC group</text></g>
<g><line x1="284.42" y1="557.4" x2="284.42" y2="709" class="gm"/><line x1="340.88" y1="557.4" x2="340.88" y2="709" class="gm"/><line x1="397.33" y1="557.4" x2="397.33" y2="709" class="gm"/><line x1="252.4" y1="580.17" x2="421.4" y2="580.17" class="gm"/><line x1="252.4" y1="617.1" x2="421.4" y2="617.1" class="gm"/><line x1="252.4" y1="654.03" x2="421.4" y2="654.03" class="gm"/><line x1="252.4" y1="690.97" x2="421.4" y2="690.97" class="gm"/><line x1="256.2" y1="557.4" x2="256.2" y2="709" class="gM"/><line x1="312.8" y1="557.4" x2="312.8" y2="709" class="gM"/><line x1="369.1" y1="557.4" x2="369.1" y2="709" class="gM"/><line x1="252.4" y1="561.7" x2="421.4" y2="561.7" class="gM"/><line x1="252.4" y1="598.8" x2="421.4" y2="598.8" class="gM"/><line x1="252.4" y1="635.7" x2="421.4" y2="635.7" class="gM"/><line x1="252.4" y1="672.5" x2="421.4" y2="672.5" class="gM"/><circle cx="312.79" cy="564.39" r="1.25" class="pg"/><circle cx="292.44" cy="616.01" r="1.25" class="pg"/><circle cx="281.77" cy="628.42" r="1.25" class="pg"/><circle cx="291.94" cy="634.63" r="1.25" class="pg"/><circle cx="279.04" cy="638.6" r="1.25" class="pg"/><circle cx="284.5" cy="640.83" r="1.25" class="pg"/><circle cx="260.18" cy="638.6" r="1.25" class="pg"/><circle cx="291.69" cy="639.34" r="1.25" class="pg"/><circle cx="295.91" cy="637.36" r="1.25" class="pg"/><circle cx="275.81" cy="650.76" r="1.25" class="pg"/><circle cx="260.18" cy="661.68" r="1.25" class="pg"/><circle cx="262.91" cy="662.18" r="1.25" class="pg"/><circle cx="285.49" cy="660.69" r="1.25" class="pg"/><circle cx="284.74" cy="666.89" r="1.25" class="pg"/><circle cx="287.72" cy="669.12" r="1.25" class="pg"/><circle cx="284.5" cy="675.58" r="1.25" class="pg"/><circle cx="343.81" cy="672.85" r="1.25" class="pg"/><circle cx="287.47" cy="696.67" r="1.25" class="pg"/><circle cx="287.97" cy="702.63" r="1.25" class="pg"/><circle cx="364.91" cy="615.52" r="1.25" class="pr"/><circle cx="277.8" cy="623.71" r="1.25" class="pr"/><circle cx="312.79" cy="618.99" r="1.25" class="pr"/><circle cx="316.26" cy="618.5" r="1.25" class="pr"/><circle cx="310.06" cy="625.2" r="1.25" class="pr"/><circle cx="302.36" cy="630.91" r="1.25" class="pr"/><circle cx="330.66" cy="628.42" r="1.25" class="pr"/><circle cx="360.19" cy="632.15" r="1.25" class="pr"/><circle cx="312.04" cy="634.88" r="1.25" class="pr"/><circle cx="334.13" cy="636.61" r="1.25" class="pr"/><circle cx="343.07" cy="636.12" r="1.25" class="pr"/><circle cx="362.42" cy="638.1" r="1.25" class="pr"/><circle cx="325.94" cy="639.59" r="1.25" class="pr"/><circle cx="305.59" cy="641.58" r="1.25" class="pr"/><circle cx="282.51" cy="644.06" r="1.25" class="pr"/><circle cx="284.5" cy="647.04" r="1.25" class="pr"/><circle cx="323.21" cy="652.5" r="1.25" class="pr"/><circle cx="326.93" cy="654.23" r="1.25" class="pr"/><circle cx="330.16" cy="649.27" r="1.25" class="pr"/><circle cx="338.35" cy="653.74" r="1.25" class="pr"/><circle cx="305.34" cy="654.23" r="1.25" class="pr"/><circle cx="307.82" cy="656.72" r="1.25" class="pr"/><circle cx="313.28" cy="657.46" r="1.25" class="pr"/><circle cx="270.1" cy="660.44" r="1.25" class="pr"/><circle cx="277.8" cy="662.18" r="1.25" class="pr"/><circle cx="288.96" cy="660.19" r="1.25" class="pr"/><circle cx="314.28" cy="661.43" r="1.25" class="pr"/><circle cx="315.52" cy="665.65" r="1.25" class="pr"/><circle cx="338.85" cy="667.39" r="1.25" class="pr"/><circle cx="335.62" cy="671.36" r="1.25" class="pr"/><circle cx="278.79" cy="671.85" r="1.25" class="pr"/><circle cx="360.93" cy="677.07" r="1.25" class="pr"/><circle cx="302.12" cy="676.32" r="1.25" class="pr"/><circle cx="306.09" cy="680.54" r="1.25" class="pr"/><circle cx="322.47" cy="683.27" r="1.25" class="pr"/><circle cx="267.87" cy="684.26" r="1.25" class="pr"/><circle cx="275.56" cy="688.23" r="1.25" class="pr"/><circle cx="286.23" cy="688.23" r="1.25" class="pr"/><circle cx="305.59" cy="688.23" r="1.25" class="pr"/><circle cx="313.28" cy="690.47" r="1.25" class="pr"/><circle cx="280.77" cy="692.2" r="1.25" class="pr"/><circle cx="413.3" cy="636.12" r="1.25" class="pr"/><path d="M260.18,639.34 C260.97,641.62 263.07,649.68 264.89,652.99 C266.71,656.3 269.02,658.17 271.09,659.2 C273.16,660.24 275.02,660.44 277.3,659.2 C279.58,657.96 282.05,656.3 284.74,651.75 C287.43,647.2 290.7,638.52 293.43,631.9 C296.16,625.28 298.6,617.62 301.12,612.04 C303.64,606.45 306.25,601.37 308.57,598.39 C310.89,595.41 313.2,594.92 315.02,594.18 C316.84,593.44 317.92,593.23 319.49,593.93 C321.06,594.63 322.79,596.12 324.45,598.39 C326.11,600.66 327.76,603.65 329.42,607.58 C331.08,611.51 332.73,616.88 334.38,621.97 C336.03,627.06 337.77,633.55 339.34,638.1 C340.91,642.65 343.06,647.41 343.81,649.27 L343.81,684.01 C343.06,680.29 340.91,668.5 339.34,661.68 C337.77,654.86 336.03,648.86 334.38,643.07 C332.73,637.28 331.08,630.94 329.42,626.93 C327.76,622.92 326.11,620.85 324.45,618.99 C322.79,617.13 321.06,616.43 319.49,615.77 C317.92,615.11 316.84,614.48 315.02,615.02 C313.2,615.56 310.89,616.18 308.57,618.99 C306.25,621.8 303.64,627.27 301.12,631.9 C298.6,636.53 296.16,641.83 293.43,646.79 C290.7,651.75 287.43,658.04 284.74,661.68 C282.05,665.32 279.58,667.39 277.3,668.63 C275.02,669.87 273.16,669.45 271.09,669.12 C269.02,668.79 266.71,668.5 264.89,666.64 C263.07,664.78 260.97,659.41 260.18,657.96 Z" class="rib"/><path d="M260.18,648.77 C260.97,650.51 263.07,656.63 264.89,659.2 C266.71,661.77 269.02,663.42 271.09,664.16 C273.16,664.9 275.02,664.9 277.3,663.66 C279.58,662.42 282.05,660.77 284.74,656.72 C287.43,652.67 290.7,645.13 293.43,639.34 C296.16,633.55 298.6,627.14 301.12,621.97 C303.64,616.8 306.25,611.3 308.57,608.32 C310.89,605.34 313.2,604.72 315.02,604.1 C316.84,603.48 317.92,603.9 319.49,604.6 C321.06,605.3 322.79,606.25 324.45,608.32 C326.11,610.39 327.76,613.08 329.42,617.01 C331.08,620.94 332.73,626.52 334.38,631.9 C336.03,637.28 337.77,643.48 339.34,649.27 C340.91,655.06 343.06,663.75 343.81,666.64" class="lg"/><path d="M268.12,666.64 C270.06,665.9 275.77,663.42 279.78,662.18 C283.79,660.94 288.05,660.32 292.19,659.2 C296.33,658.08 300.46,656.79 304.6,655.47 C308.74,654.15 312.87,652.62 317.01,651.26 C321.15,649.89 325.29,648.64 329.42,647.28 C333.56,645.91 337.69,644.39 341.82,643.07 C345.95,641.75 350.09,640.58 354.23,639.34 C358.37,638.1 362.5,636.86 366.64,635.62 C370.78,634.38 374.91,633.14 379.05,631.9 C383.19,630.66 387.32,629.42 391.46,628.18 C395.6,626.94 400.23,625.61 403.87,624.45 C407.51,623.29 411.73,621.77 413.3,621.23 L413.3,648.77 C411.73,648.52 407.51,647.69 403.87,647.28 C400.23,646.87 395.6,646.45 391.46,646.29 C387.32,646.12 383.19,646.12 379.05,646.29 C374.91,646.45 370.78,646.87 366.64,647.28 C362.5,647.69 358.37,648.11 354.23,648.77 C350.09,649.43 345.95,650.35 341.82,651.26 C337.69,652.17 333.56,653.24 329.42,654.23 C325.29,655.22 321.15,656.18 317.01,657.21 C312.87,658.25 308.74,659.28 304.6,660.44 C300.46,661.6 296.33,662.79 292.19,664.16 C288.05,665.52 283.79,666.98 279.78,668.63 C275.77,670.28 270.06,673.18 268.12,674.09 Z" class="rib"/><path d="M268.12,670.36 C270.06,669.53 275.77,666.85 279.78,665.4 C283.79,663.95 288.05,662.92 292.19,661.68 C296.33,660.44 300.46,659.2 304.6,657.96 C308.74,656.72 312.87,655.47 317.01,654.23 C321.15,652.99 325.29,651.75 329.42,650.51 C333.56,649.27 337.69,647.91 341.82,646.79 C345.95,645.67 350.09,644.72 354.23,643.81 C358.37,642.9 362.5,642.08 366.64,641.33 C370.78,640.59 374.91,640 379.05,639.34 C383.19,638.68 387.32,637.94 391.46,637.36 C395.6,636.78 400.23,636.28 403.87,635.87 C407.51,635.46 411.73,635.04 413.3,634.88" class="lr"/><rect x="348.5" y="693.4" width="72.6" height="14.9" class="sbox"/><text x="349.9" y="698.9" class="st" textLength="66.53" lengthAdjust="spacingAndGlyphs">NC Group:R=0.15  P=0.53</text><text x="349.9" y="705.5" class="st" textLength="67.35" lengthAdjust="spacingAndGlyphs">PC Group:R=0.37 P=0.015</text><rect x="252.4" y="557.4" width="169" height="151.6" class="bd"/><line x1="256.2" y1="709" x2="256.2" y2="710.6" class="tk"/><text x="256.2" y="714.2" class="tl" text-anchor="middle" textLength="2.38" lengthAdjust="spacingAndGlyphs">2</text><line x1="312.8" y1="709" x2="312.8" y2="710.6" class="tk"/><text x="312.8" y="714.2" class="tl" text-anchor="middle" textLength="2.38" lengthAdjust="spacingAndGlyphs">4</text><line x1="369.1" y1="709" x2="369.1" y2="710.6" class="tk"/><text x="369.1" y="714.2" class="tl" text-anchor="middle" textLength="2.38" lengthAdjust="spacingAndGlyphs">6</text><line x1="250.8" y1="561.7" x2="252.4" y2="561.7" class="tk"/><text x="250.2" y="563.55" class="tl" text-anchor="end" textLength="11.90" lengthAdjust="spacingAndGlyphs">18000</text><line x1="250.8" y1="598.8" x2="252.4" y2="598.8" class="tk"/><text x="250.2" y="600.65" class="tl" text-anchor="end" textLength="11.90" lengthAdjust="spacingAndGlyphs">16000</text><line x1="250.8" y1="635.7" x2="252.4" y2="635.7" class="tk"/><text x="250.2" y="637.55" class="tl" text-anchor="end" textLength="11.90" lengthAdjust="spacingAndGlyphs">14000</text><line x1="250.8" y1="672.5" x2="252.4" y2="672.5" class="tk"/><text x="250.2" y="674.35" class="tl" text-anchor="end" textLength="11.90" lengthAdjust="spacingAndGlyphs">12000</text><text x="336.9" y="549.6" class="ti" text-anchor="middle" textLength="154.50" lengthAdjust="spacingAndGlyphs">Correlation between Insular Lobe Volume and NEU Level</text><text x="336.9" y="554.5" class="su" text-anchor="middle" textLength="68.22" lengthAdjust="spacingAndGlyphs">PC Group (n=43) vs. NC Control (n=20)</text><text x="336.9" y="720.1" class="ax" text-anchor="middle" textLength="55.57" lengthAdjust="spacingAndGlyphs">NEU Level(10e9/L)</text><text transform="translate(236.2,633.2) rotate(-90)" class="ax" text-anchor="middle" textLength="81.27" lengthAdjust="spacingAndGlyphs">Insular Lobe Volume(mm3)</text><text x="228.2" y="562.7" class="lt" textLength="8.34" lengthAdjust="spacingAndGlyphs">k</text><text x="427" y="629.3" class="lgt" textLength="18.74" lengthAdjust="spacingAndGlyphs">Group</text><rect x="427" y="631.7" width="5.2" height="10.6" fill="#d9d9d9"/><line x1="427.4" y1="634.5" x2="431.8" y2="634.5" class="lg"/><line x1="427.4" y1="639.8" x2="431.8" y2="639.8" class="lr"/><circle cx="429.6" cy="634.5" r="1.4" class="pg"/><circle cx="429.6" cy="639.8" r="1.4" class="pr"/><text x="434" y="636.2" class="lgl" textLength="21.59" lengthAdjust="spacingAndGlyphs">NC group</text><text x="434" y="641.5" class="lgl" textLength="21.31" lengthAdjust="spacingAndGlyphs">PC group</text></g>
<g><line x1="516.58" y1="556.6" x2="516.58" y2="708.3" class="gm"/><line x1="571.93" y1="556.6" x2="571.93" y2="708.3" class="gm"/><line x1="627.28" y1="556.6" x2="627.28" y2="708.3" class="gm"/><line x1="484.5" y1="567.83" x2="650.5" y2="567.83" class="gm"/><line x1="484.5" y1="609.18" x2="650.5" y2="609.18" class="gm"/><line x1="484.5" y1="650.53" x2="650.5" y2="650.53" class="gm"/><line x1="484.5" y1="691.88" x2="650.5" y2="691.88" class="gm"/><line x1="488.9" y1="556.6" x2="488.9" y2="708.3" class="gM"/><line x1="544.5" y1="556.6" x2="544.5" y2="708.3" class="gM"/><line x1="599.6" y1="556.6" x2="599.6" y2="708.3" class="gM"/><line x1="484.5" y1="588.5" x2="650.5" y2="588.5" class="gM"/><line x1="484.5" y1="630" x2="650.5" y2="630" class="gM"/><line x1="484.5" y1="671.2" x2="650.5" y2="671.2" class="gM"/><circle cx="523.93" cy="583.26" r="1.25" class="pg"/><circle cx="528.15" cy="594.67" r="1.25" class="pg"/><circle cx="494.89" cy="604.6" r="1.25" class="pg"/><circle cx="513.26" cy="604.1" r="1.25" class="pg"/><circle cx="517.23" cy="608.32" r="1.25" class="pg"/><circle cx="510.77" cy="613.04" r="1.25" class="pg"/><circle cx="516.23" cy="615.77" r="1.25" class="pg"/><circle cx="523.43" cy="616.26" r="1.25" class="pg"/><circle cx="516.23" cy="630.66" r="1.25" class="pg"/><circle cx="516.73" cy="631.9" r="1.25" class="pg"/><circle cx="574.8" cy="628.67" r="1.25" class="pg"/><circle cx="511.77" cy="643.07" r="1.25" class="pg"/><circle cx="544.03" cy="644.8" r="1.25" class="pg"/><circle cx="507.8" cy="650.01" r="1.25" class="pg"/><circle cx="518.96" cy="651.75" r="1.25" class="pg"/><circle cx="519.71" cy="658.95" r="1.25" class="pg"/><circle cx="523.68" cy="665.65" r="1.25" class="pg"/><circle cx="519.21" cy="667.88" r="1.25" class="pg"/><circle cx="491.91" cy="667.88" r="1.25" class="pg"/><circle cx="491.91" cy="683.02" r="1.25" class="pg"/><circle cx="547.26" cy="574.82" r="1.25" class="pr"/><circle cx="545.02" cy="580.03" r="1.25" class="pr"/><circle cx="557.18" cy="579.78" r="1.25" class="pr"/><circle cx="544.28" cy="592.93" r="1.25" class="pr"/><circle cx="554.45" cy="595.66" r="1.25" class="pr"/><circle cx="561.15" cy="599.39" r="1.25" class="pr"/><circle cx="595.15" cy="601.62" r="1.25" class="pr"/><circle cx="533.61" cy="605.09" r="1.25" class="pr"/><circle cx="537.08" cy="606.34" r="1.25" class="pr"/><circle cx="573.81" cy="608.82" r="1.25" class="pr"/><circle cx="501.84" cy="614.03" r="1.25" class="pr"/><circle cx="514.5" cy="610.8" r="1.25" class="pr"/><circle cx="520.2" cy="617.01" r="1.25" class="pr"/><circle cx="568.85" cy="614.28" r="1.25" class="pr"/><circle cx="592.92" cy="612.79" r="1.25" class="pr"/><circle cx="546.51" cy="621.47" r="1.25" class="pr"/><circle cx="544.28" cy="624.45" r="1.25" class="pr"/><circle cx="590.93" cy="620.98" r="1.25" class="pr"/><circle cx="558.18" cy="625.94" r="1.25" class="pr"/><circle cx="561.9" cy="626.44" r="1.25" class="pr"/><circle cx="509.53" cy="634.88" r="1.25" class="pr"/><circle cx="564.88" cy="635.12" r="1.25" class="pr"/><circle cx="541.05" cy="642.82" r="1.25" class="pr"/><circle cx="590.44" cy="639.34" r="1.25" class="pr"/><circle cx="517.97" cy="650.01" r="1.25" class="pr"/><circle cx="511.77" cy="652.5" r="1.25" class="pr"/><circle cx="509.53" cy="655.23" r="1.25" class="pr"/><circle cx="510.53" cy="658.7" r="1.25" class="pr"/><circle cx="544.53" cy="658.7" r="1.25" class="pr"/><circle cx="543.04" cy="655.23" r="1.25" class="pr"/><circle cx="533.61" cy="661.68" r="1.25" class="pr"/><circle cx="512.51" cy="663.66" r="1.25" class="pr"/><circle cx="566.12" cy="663.66" r="1.25" class="pr"/><circle cx="536.58" cy="665.65" r="1.25" class="pr"/><circle cx="537.33" cy="667.88" r="1.25" class="pr"/><circle cx="515.99" cy="671.61" r="1.25" class="pr"/><circle cx="499.85" cy="673.34" r="1.25" class="pr"/><circle cx="507.3" cy="680.79" r="1.25" class="pr"/><circle cx="553.46" cy="701.39" r="1.25" class="pr"/><circle cx="642.8" cy="579.04" r="1.25" class="pr"/><circle cx="539.07" cy="631.15" r="1.25" class="pr"/><path d="M491.91,644.31 C492.82,643.27 495.43,640.58 497.37,638.1 C499.31,635.62 501.51,631.69 503.58,629.42 C505.65,627.14 507.71,625.69 509.78,624.45 C511.85,623.21 513.92,622.47 515.99,621.97 C518.06,621.47 519.92,621.47 522.19,621.47 C524.47,621.47 527.16,621.8 529.64,621.97 C532.12,622.14 534.6,622.47 537.08,622.47 C539.56,622.47 542.05,622.47 544.53,621.97 C547.01,621.47 549.49,620.11 551.97,619.49 C554.45,618.87 556.94,618.58 559.42,618.25 C561.9,617.92 564.3,617.71 566.86,617.5 C569.42,617.29 573.48,617.09 574.8,617.01 L574.8,649.27 C573.48,648.44 569.42,645.63 566.86,644.31 C564.3,642.99 561.9,642.16 559.42,641.33 C556.94,640.5 554.45,640 551.97,639.34 C549.49,638.68 547.01,637.98 544.53,637.36 C542.05,636.74 539.56,636.12 537.08,635.62 C534.6,635.12 532.12,634.67 529.64,634.38 C527.16,634.09 524.47,633.96 522.19,633.88 C519.92,633.8 518.06,633.59 515.99,633.88 C513.92,634.17 511.85,634.38 509.78,635.62 C507.71,636.86 505.65,638.44 503.58,641.33 C501.51,644.23 499.31,648.36 497.37,652.99 C495.43,657.62 492.82,666.43 491.91,669.12 Z" class="rib"/><path d="M491.91,656.72 C492.82,654.86 495.43,649.07 497.37,645.55 C499.31,642.03 501.51,638.23 503.58,635.62 C505.65,633.01 507.71,631.19 509.78,629.91 C511.85,628.63 513.92,628.3 515.99,627.93 C518.06,627.56 519.92,627.64 522.19,627.68 C524.47,627.72 527.16,627.97 529.64,628.18 C532.12,628.39 534.6,628.63 537.08,628.92 C539.56,629.21 542.05,629.7 544.53,629.91 C547.01,630.12 549.49,630.12 551.97,630.16 C554.45,630.2 556.94,630.24 559.42,630.16 C561.9,630.08 564.3,629.87 566.86,629.66 C569.42,629.45 573.48,629.04 574.8,628.92" class="lg"/><path d="M500.35,650.51 C501.92,649.89 506.14,648.44 509.78,646.79 C513.42,645.13 518.05,642.86 522.19,640.58 C526.33,638.31 530.46,635.62 534.6,633.14 C538.74,630.66 542.87,627.97 547.01,625.69 C551.15,623.42 555.28,621.35 559.42,619.49 C563.55,617.63 567.69,615.98 571.82,614.53 C575.96,613.08 580.09,612.45 584.23,610.8 C588.37,609.14 592.5,607.29 596.64,604.6 C600.78,601.91 604.91,598.19 609.05,594.67 C613.19,591.15 617.32,587.22 621.46,583.5 C625.6,579.78 630.31,575.53 633.87,572.34 C637.43,569.15 641.31,565.72 642.8,564.39 L642.8,600.88 C641.31,601.42 637.43,602.86 633.87,604.1 C630.31,605.34 625.6,606.67 621.46,608.32 C617.32,609.98 613.19,612.17 609.05,614.03 C604.91,615.89 600.78,617.96 596.64,619.49 C592.5,621.02 588.37,622.18 584.23,623.21 C580.09,624.24 575.96,624.74 571.82,625.69 C567.69,626.64 563.55,627.55 559.42,628.92 C555.28,630.28 551.15,631.94 547.01,633.88 C542.87,635.82 538.74,638.1 534.6,640.58 C530.46,643.06 526.33,645.87 522.19,648.77 C518.05,651.67 513.42,655.19 509.78,657.96 C506.14,660.73 501.92,664.16 500.35,665.4 Z" class="rib"/><path d="M500.35,657.96 C501.92,657.01 506.14,654.52 509.78,652.25 C513.42,649.98 518.05,646.88 522.19,644.31 C526.33,641.74 530.46,639.34 534.6,636.86 C538.74,634.38 542.87,631.61 547.01,629.42 C551.15,627.23 555.28,625.37 559.42,623.71 C563.55,622.06 567.69,620.69 571.82,619.49 C575.96,618.29 580.09,617.83 584.23,616.51 C588.37,615.19 592.5,613.53 596.64,611.55 C600.78,609.56 604.91,607.08 609.05,604.6 C613.19,602.12 617.32,599.43 621.46,596.66 C625.6,593.89 630.31,590.45 633.87,587.97 C637.43,585.49 641.31,582.8 642.8,581.77" class="lr"/><rect x="573.2" y="691.5" width="77" height="15.6" class="sbox"/><text x="574.7" y="697" class="st" textLength="60.97" lengthAdjust="spacingAndGlyphs">NC Group:R=0.4 P=0.08</text><text x="574.7" y="703.6" class="st" textLength="69.13" lengthAdjust="spacingAndGlyphs">PC Group:R=0.45  P=2.4e-3</text><rect x="484.5" y="556.6" width="166" height="151.7" class="bd"/><line x1="488.9" y1="708.3" x2="488.9" y2="709.9" class="tk"/><text x="488.9" y="713.5" class="tl" text-anchor="middle" textLength="2.34" lengthAdjust="spacingAndGlyphs">2</text><line x1="544.5" y1="708.3" x2="544.5" y2="709.9" class="tk"/><text x="544.5" y="713.5" class="tl" text-anchor="middle" textLength="2.34" lengthAdjust="spacingAndGlyphs">4</text><line x1="599.6" y1="708.3" x2="599.6" y2="709.9" class="tk"/><text x="599.6" y="713.5" class="tl" text-anchor="middle" textLength="2.34" lengthAdjust="spacingAndGlyphs">6</text><line x1="482.9" y1="588.5" x2="484.5" y2="588.5" class="tk"/><text x="482.3" y="590.35" class="tl" text-anchor="end" textLength="11.68" lengthAdjust="spacingAndGlyphs">24000</text><line x1="482.9" y1="630" x2="484.5" y2="630" class="tk"/><text x="482.3" y="631.85" class="tl" text-anchor="end" textLength="11.68" lengthAdjust="spacingAndGlyphs">21000</text><line x1="482.9" y1="671.2" x2="484.5" y2="671.2" class="tk"/><text x="482.3" y="673.05" class="tl" text-anchor="end" textLength="11.68" lengthAdjust="spacingAndGlyphs">18000</text><text x="567.5" y="549.6" class="ti" text-anchor="middle" textLength="158.81" lengthAdjust="spacingAndGlyphs">Correlation between Cingulate Lobe Volume and NEU Level</text><text x="567.5" y="554.5" class="su" text-anchor="middle" textLength="66.95" lengthAdjust="spacingAndGlyphs">PC Group (n=43) vs. NC Control (n=20)</text><text x="567.5" y="720.1" class="ax" text-anchor="middle" textLength="54.54" lengthAdjust="spacingAndGlyphs">NEU Level(10e9/L)</text><text transform="translate(468.6,632.45) rotate(-90)" class="ax" text-anchor="middle" textLength="87.74" lengthAdjust="spacingAndGlyphs">Cingulate Lobe Volume(mm3)</text><text x="475.2" y="563.5" class="lt" textLength="4.17" lengthAdjust="spacingAndGlyphs">l</text><text x="655.8" y="628.7" class="lgt" textLength="18.39" lengthAdjust="spacingAndGlyphs">Group</text><rect x="655.8" y="631.1" width="5.2" height="10.6" fill="#d9d9d9"/><line x1="656.2" y1="633.9" x2="660.6" y2="633.9" class="lg"/><line x1="656.2" y1="639.2" x2="660.6" y2="639.2" class="lr"/><circle cx="658.4" cy="633.9" r="1.4" class="pg"/><circle cx="658.4" cy="639.2" r="1.4" class="pr"/><text x="662.8" y="635.6" class="lgl" textLength="21.19" lengthAdjust="spacingAndGlyphs">NC group</text><text x="662.8" y="640.9" class="lgl" textLength="20.91" lengthAdjust="spacingAndGlyphs">PC group</text></g>
</svg></body></html>
